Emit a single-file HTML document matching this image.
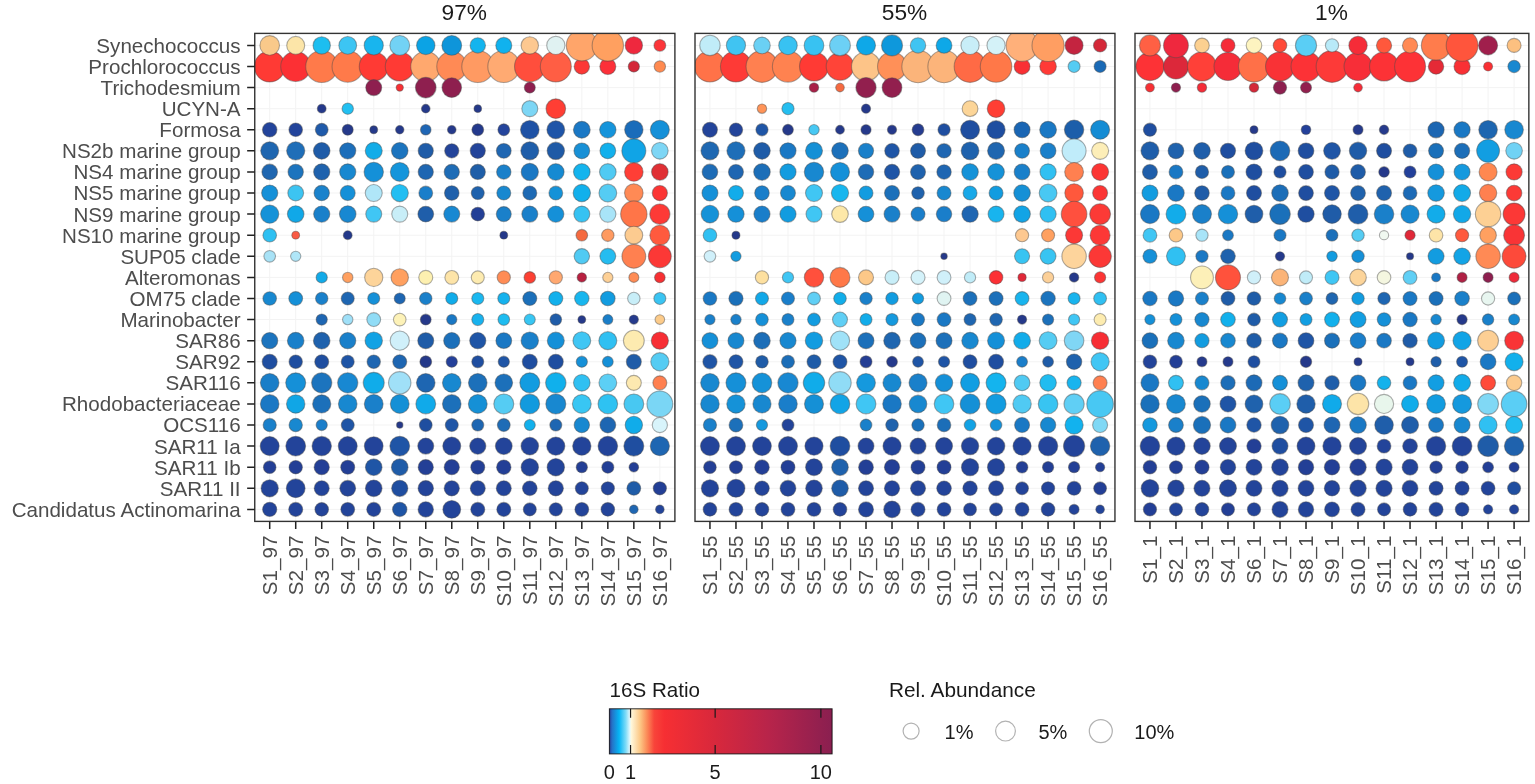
<!DOCTYPE html>
<html lang="en"><head><meta charset="utf-8"><title>16S Ratio bubble chart</title>
<style>html,body{margin:0;padding:0;background:#fff;}body{width:1535px;height:784px;overflow:hidden;}svg{display:block;}</style>
</head><body>
<svg width="1535" height="784" viewBox="0 0 1535 784"><rect x="0" y="0" width="1535" height="784" fill="#ffffff"/><defs><clipPath id="cp0"><rect x="254.75" y="33.4" width="420.15" height="488.00"/></clipPath><clipPath id="cp1"><rect x="695.0" y="33.4" width="419.95" height="488.00"/></clipPath><clipPath id="cp2"><rect x="1135.0" y="33.4" width="393.85" height="488.00"/></clipPath><linearGradient id="cbar" x1="0" y1="0" x2="1" y2="0"><stop offset="0.0000" stop-color="#253c92"/><stop offset="0.0114" stop-color="#2670c6"/><stop offset="0.0437" stop-color="#05b5f5"/><stop offset="0.0741" stop-color="#80dcf8"/><stop offset="0.0921" stop-color="#e2f8fd"/><stop offset="0.0978" stop-color="#fff8dc"/><stop offset="0.1377" stop-color="#fcc886"/><stop offset="0.1690" stop-color="#fb8a58"/><stop offset="0.2013" stop-color="#f8443a"/><stop offset="0.2469" stop-color="#f62f33"/><stop offset="0.4748" stop-color="#d8283c"/><stop offset="0.7123" stop-color="#b8244a"/><stop offset="1.0000" stop-color="#8a1f50"/></linearGradient></defs><path d="M269.70 33.4V521.4M295.71 33.4V521.4M321.72 33.4V521.4M347.73 33.4V521.4M373.74 33.4V521.4M399.75 33.4V521.4M425.76 33.4V521.4M451.77 33.4V521.4M477.78 33.4V521.4M503.79 33.4V521.4M529.80 33.4V521.4M555.81 33.4V521.4M581.82 33.4V521.4M607.83 33.4V521.4M633.84 33.4V521.4M659.85 33.4V521.4M254.75 45.40H674.9M254.75 66.49H674.9M254.75 87.58H674.9M254.75 108.67H674.9M254.75 129.76H674.9M254.75 150.85H674.9M254.75 171.94H674.9M254.75 193.03H674.9M254.75 214.12H674.9M254.75 235.21H674.9M254.75 256.30H674.9M254.75 277.39H674.9M254.75 298.48H674.9M254.75 319.57H674.9M254.75 340.66H674.9M254.75 361.75H674.9M254.75 382.84H674.9M254.75 403.93H674.9M254.75 425.02H674.9M254.75 446.11H674.9M254.75 467.20H674.9M254.75 488.29H674.9M254.75 509.38H674.9" stroke="#f3f3f3" stroke-width="1" fill="none"/><g clip-path="url(#cp0)" stroke="rgba(75,75,75,0.45)" stroke-width="1.1"><circle cx="269.70" cy="66.49" r="15.4" fill="#FF3A34"/><circle cx="295.71" cy="66.49" r="15.0" fill="#FC3034"/><circle cx="321.72" cy="66.49" r="16.0" fill="#FF7A4A"/><circle cx="347.73" cy="66.49" r="15.7" fill="#FF7A4A"/><circle cx="373.74" cy="66.49" r="14.5" fill="#FF3A34"/><circle cx="399.75" cy="66.49" r="14.5" fill="#FF3A34"/><circle cx="425.76" cy="66.49" r="15.0" fill="#FFA86E"/><circle cx="451.77" cy="66.49" r="15.0" fill="#FF8A55"/><circle cx="477.78" cy="66.49" r="16.0" fill="#FF9A62"/><circle cx="503.79" cy="66.49" r="16.0" fill="#FFAA72"/><circle cx="529.80" cy="66.49" r="15.3" fill="#FF4E3C"/><circle cx="555.81" cy="66.49" r="15.5" fill="#FF5E44"/><circle cx="581.82" cy="66.49" r="7.7" fill="#FC3836"/><circle cx="607.83" cy="66.49" r="8.0" fill="#FC3039"/><circle cx="633.84" cy="66.49" r="5.6" fill="#D42838"/><circle cx="659.85" cy="66.49" r="5.7" fill="#FF8A50"/><circle cx="269.70" cy="45.40" r="9.8" fill="#F9C98A"/><circle cx="295.71" cy="45.40" r="9.0" fill="#FCE5A8"/><circle cx="321.72" cy="45.40" r="8.7" fill="#1DBEF0"/><circle cx="347.73" cy="45.40" r="8.9" fill="#3CC5F3"/><circle cx="373.74" cy="45.40" r="9.6" fill="#18B5EE"/><circle cx="399.75" cy="45.40" r="9.9" fill="#72D2F5"/><circle cx="425.76" cy="45.40" r="9.2" fill="#0BA3E5"/><circle cx="451.77" cy="45.40" r="9.9" fill="#0E95DA"/><circle cx="477.78" cy="45.40" r="7.7" fill="#13B4EE"/><circle cx="503.79" cy="45.40" r="8.0" fill="#10B2EE"/><circle cx="529.80" cy="45.40" r="8.7" fill="#FDC890"/><circle cx="555.81" cy="45.40" r="9.1" fill="#E0F2F2"/><circle cx="581.82" cy="45.40" r="15.5" fill="#FFA56A"/><circle cx="607.83" cy="45.40" r="15.7" fill="#FFA060"/><circle cx="633.84" cy="45.40" r="8.7" fill="#EF283E"/><circle cx="659.85" cy="45.40" r="5.9" fill="#FC3539"/><circle cx="373.74" cy="87.58" r="8.0" fill="#8E1F4F"/><circle cx="399.75" cy="87.58" r="3.6" fill="#F73034"/><circle cx="425.76" cy="87.58" r="10.3" fill="#8E1F4F"/><circle cx="451.77" cy="87.58" r="9.8" fill="#8E1F4F"/><circle cx="529.80" cy="87.58" r="5.5" fill="#8E1F4F"/><circle cx="321.72" cy="108.67" r="4.4" fill="#25398A"/><circle cx="347.73" cy="108.67" r="5.7" fill="#22C0F2"/><circle cx="425.76" cy="108.67" r="4.3" fill="#25398A"/><circle cx="477.78" cy="108.67" r="3.8" fill="#25398A"/><circle cx="529.80" cy="108.67" r="8.0" fill="#7DD6F5"/><circle cx="555.81" cy="108.67" r="9.8" fill="#FF3E34"/><circle cx="269.70" cy="129.76" r="7.25" fill="#23449B"/><circle cx="295.71" cy="129.76" r="6.8" fill="#23449B"/><circle cx="321.72" cy="129.76" r="6.4" fill="#1F5AAA"/><circle cx="347.73" cy="129.76" r="5.5" fill="#25398A"/><circle cx="373.74" cy="129.76" r="3.9" fill="#25398A"/><circle cx="399.75" cy="129.76" r="4.2" fill="#25398A"/><circle cx="425.76" cy="129.76" r="5.3" fill="#1F66B5"/><circle cx="451.77" cy="129.76" r="4.3" fill="#25398A"/><circle cx="477.78" cy="129.76" r="5.9" fill="#23398C"/><circle cx="503.79" cy="129.76" r="5.9" fill="#24449C"/><circle cx="529.80" cy="129.76" r="9.3" fill="#1F52A5"/><circle cx="555.81" cy="129.76" r="8.9" fill="#1F55A8"/><circle cx="581.82" cy="129.76" r="8.4" fill="#1A78C5"/><circle cx="607.83" cy="129.76" r="8.2" fill="#1594DB"/><circle cx="633.84" cy="129.76" r="9.2" fill="#1A6CBA"/><circle cx="659.85" cy="129.76" r="9.5" fill="#1590D8"/><circle cx="269.70" cy="150.85" r="9.0" fill="#1F66B0"/><circle cx="295.71" cy="150.85" r="9.1" fill="#1F6EB8"/><circle cx="321.72" cy="150.85" r="8.3" fill="#1F5CA8"/><circle cx="347.73" cy="150.85" r="8.1" fill="#1C6EBA"/><circle cx="373.74" cy="150.85" r="8.5" fill="#12ACE8"/><circle cx="399.75" cy="150.85" r="8.3" fill="#1C74BE"/><circle cx="425.76" cy="150.85" r="7.6" fill="#1F5CA8"/><circle cx="451.77" cy="150.85" r="7.1" fill="#23449A"/><circle cx="477.78" cy="150.85" r="7.6" fill="#23449A"/><circle cx="503.79" cy="150.85" r="7.4" fill="#1F66B2"/><circle cx="529.80" cy="150.85" r="9.0" fill="#1F5EAA"/><circle cx="555.81" cy="150.85" r="8.7" fill="#1F5AA6"/><circle cx="581.82" cy="150.85" r="7.9" fill="#1890D6"/><circle cx="607.83" cy="150.85" r="7.9" fill="#12B0EC"/><circle cx="633.84" cy="150.85" r="12.0" fill="#10A4E6"/><circle cx="659.85" cy="150.85" r="8.3" fill="#7ED6F5"/><circle cx="269.70" cy="171.94" r="7.8" fill="#1F66B0"/><circle cx="295.71" cy="171.94" r="7.7" fill="#1C74BE"/><circle cx="321.72" cy="171.94" r="8.1" fill="#1F62AD"/><circle cx="347.73" cy="171.94" r="8.1" fill="#1888D0"/><circle cx="373.74" cy="171.94" r="9.7" fill="#1490D8"/><circle cx="399.75" cy="171.94" r="9.4" fill="#1495DB"/><circle cx="425.76" cy="171.94" r="7.6" fill="#1E66B2"/><circle cx="451.77" cy="171.94" r="7.6" fill="#1E6CB6"/><circle cx="477.78" cy="171.94" r="7.6" fill="#1F5EA8"/><circle cx="503.79" cy="171.94" r="7.2" fill="#1A80CA"/><circle cx="529.80" cy="171.94" r="8.6" fill="#1A78C4"/><circle cx="555.81" cy="171.94" r="8.3" fill="#168AD2"/><circle cx="581.82" cy="171.94" r="8.3" fill="#14B4EE"/><circle cx="607.83" cy="171.94" r="8.3" fill="#50CAF3"/><circle cx="633.84" cy="171.94" r="9.3" fill="#FF3E36"/><circle cx="659.85" cy="171.94" r="8.3" fill="#E03035"/><circle cx="269.70" cy="193.03" r="8.1" fill="#1590D8"/><circle cx="295.71" cy="193.03" r="7.9" fill="#3CC4F2"/><circle cx="321.72" cy="193.03" r="7.7" fill="#1A82CC"/><circle cx="347.73" cy="193.03" r="7.5" fill="#1590D8"/><circle cx="373.74" cy="193.03" r="8.5" fill="#B0E6F8"/><circle cx="399.75" cy="193.03" r="8.6" fill="#22BEF2"/><circle cx="425.76" cy="193.03" r="6.9" fill="#1A7ECA"/><circle cx="451.77" cy="193.03" r="7.3" fill="#1F60AB"/><circle cx="477.78" cy="193.03" r="6.5" fill="#1F62AD"/><circle cx="503.79" cy="193.03" r="7.0" fill="#1888D0"/><circle cx="529.80" cy="193.03" r="7.0" fill="#1E6AB4"/><circle cx="555.81" cy="193.03" r="6.9" fill="#1592D8"/><circle cx="581.82" cy="193.03" r="8.7" fill="#12B0EC"/><circle cx="607.83" cy="193.03" r="8.9" fill="#55CCF3"/><circle cx="633.84" cy="193.03" r="9.3" fill="#FF8A55"/><circle cx="659.85" cy="193.03" r="7.6" fill="#FC3534"/><circle cx="269.70" cy="214.12" r="9.1" fill="#1592D8"/><circle cx="295.71" cy="214.12" r="8.3" fill="#10A8E8"/><circle cx="321.72" cy="214.12" r="8.1" fill="#1A80CA"/><circle cx="347.73" cy="214.12" r="8.3" fill="#1888D2"/><circle cx="373.74" cy="214.12" r="8.0" fill="#40C6F4"/><circle cx="399.75" cy="214.12" r="8.0" fill="#C8EEF8"/><circle cx="425.76" cy="214.12" r="7.9" fill="#1F5EAA"/><circle cx="451.77" cy="214.12" r="8.0" fill="#1888D2"/><circle cx="477.78" cy="214.12" r="6.8" fill="#233F96"/><circle cx="503.79" cy="214.12" r="7.5" fill="#1A80CA"/><circle cx="529.80" cy="214.12" r="8.0" fill="#1A80CA"/><circle cx="555.81" cy="214.12" r="8.1" fill="#1590D8"/><circle cx="581.82" cy="214.12" r="8.0" fill="#36C2F2"/><circle cx="607.83" cy="214.12" r="8.1" fill="#A8E4F8"/><circle cx="633.84" cy="214.12" r="13.2" fill="#FF7548"/><circle cx="659.85" cy="214.12" r="10.1" fill="#FD3A36"/><circle cx="269.70" cy="235.21" r="6.8" fill="#2EC0F2"/><circle cx="295.71" cy="235.21" r="3.9" fill="#F95A44"/><circle cx="347.73" cy="235.21" r="4.4" fill="#24398A"/><circle cx="503.79" cy="235.21" r="3.9" fill="#25398A"/><circle cx="581.82" cy="235.21" r="5.8" fill="#F56A40"/><circle cx="607.83" cy="235.21" r="6.2" fill="#FF9A60"/><circle cx="633.84" cy="235.21" r="8.9" fill="#FCCB90"/><circle cx="659.85" cy="235.21" r="10.0" fill="#FF5A3E"/><circle cx="269.70" cy="256.30" r="5.8" fill="#A8E2F6"/><circle cx="295.71" cy="256.30" r="5.1" fill="#B0E6F8"/><circle cx="581.82" cy="256.30" r="7.7" fill="#50CAF3"/><circle cx="607.83" cy="256.30" r="7.9" fill="#25BCF0"/><circle cx="633.84" cy="256.30" r="11.9" fill="#FF8050"/><circle cx="659.85" cy="256.30" r="11.4" fill="#FC3836"/><circle cx="321.72" cy="277.39" r="5.6" fill="#12AAE8"/><circle cx="347.73" cy="277.39" r="5.2" fill="#FFA060"/><circle cx="373.74" cy="277.39" r="9.1" fill="#FDD49A"/><circle cx="399.75" cy="277.39" r="8.7" fill="#FFA060"/><circle cx="425.76" cy="277.39" r="7.0" fill="#FDF0B0"/><circle cx="451.77" cy="277.39" r="6.9" fill="#FDE4A8"/><circle cx="477.78" cy="277.39" r="6.5" fill="#FDEBB0"/><circle cx="503.79" cy="277.39" r="6.6" fill="#FF8C55"/><circle cx="529.80" cy="277.39" r="5.8" fill="#FC4033"/><circle cx="555.81" cy="277.39" r="6.6" fill="#FFA870"/><circle cx="581.82" cy="277.39" r="4.7" fill="#B82040"/><circle cx="607.83" cy="277.39" r="5.1" fill="#FDD096"/><circle cx="633.84" cy="277.39" r="5.0" fill="#FF8C55"/><circle cx="659.85" cy="277.39" r="5.3" fill="#F73033"/><circle cx="269.70" cy="298.48" r="6.8" fill="#1888D0"/><circle cx="295.71" cy="298.48" r="6.9" fill="#1590D8"/><circle cx="321.72" cy="298.48" r="6.2" fill="#1A80CA"/><circle cx="347.73" cy="298.48" r="6.5" fill="#1E66B2"/><circle cx="373.74" cy="298.48" r="6.0" fill="#1590D8"/><circle cx="399.75" cy="298.48" r="5.5" fill="#1E66B2"/><circle cx="425.76" cy="298.48" r="6.2" fill="#1A80CA"/><circle cx="451.77" cy="298.48" r="6.0" fill="#10ACEA"/><circle cx="477.78" cy="298.48" r="6.0" fill="#1AB8F0"/><circle cx="503.79" cy="298.48" r="6.0" fill="#15B2EE"/><circle cx="529.80" cy="298.48" r="7.0" fill="#1C70BA"/><circle cx="555.81" cy="298.48" r="7.0" fill="#12B0EC"/><circle cx="581.82" cy="298.48" r="7.2" fill="#18B6EE"/><circle cx="607.83" cy="298.48" r="7.3" fill="#129CE0"/><circle cx="633.84" cy="298.48" r="6.2" fill="#C8EEF8"/><circle cx="659.85" cy="298.48" r="6.0" fill="#3AC4F2"/><circle cx="321.72" cy="319.57" r="5.6" fill="#1E66B2"/><circle cx="347.73" cy="319.57" r="5.2" fill="#A0E0F8"/><circle cx="373.74" cy="319.57" r="6.9" fill="#90DCF6"/><circle cx="399.75" cy="319.57" r="6.3" fill="#FDF2B8"/><circle cx="425.76" cy="319.57" r="5.4" fill="#25398A"/><circle cx="451.77" cy="319.57" r="5.1" fill="#1A78C4"/><circle cx="477.78" cy="319.57" r="6.0" fill="#18B2EE"/><circle cx="503.79" cy="319.57" r="5.8" fill="#1EBCF0"/><circle cx="529.80" cy="319.57" r="5.5" fill="#38C6F3"/><circle cx="555.81" cy="319.57" r="5.8" fill="#1F5CA8"/><circle cx="581.82" cy="319.57" r="3.9" fill="#25398A"/><circle cx="607.83" cy="319.57" r="5.0" fill="#1A7EC8"/><circle cx="633.84" cy="319.57" r="4.6" fill="#253A8C"/><circle cx="659.85" cy="319.57" r="4.8" fill="#FCCB8A"/><circle cx="269.70" cy="340.66" r="8.1" fill="#1C74BE"/><circle cx="295.71" cy="340.66" r="8.3" fill="#1A80CA"/><circle cx="321.72" cy="340.66" r="8.3" fill="#1F62AD"/><circle cx="347.73" cy="340.66" r="8.1" fill="#1A80CA"/><circle cx="373.74" cy="340.66" r="8.7" fill="#12A2E4"/><circle cx="399.75" cy="340.66" r="9.6" fill="#D0F0FA"/><circle cx="425.76" cy="340.66" r="8.0" fill="#1F5CA8"/><circle cx="451.77" cy="340.66" r="8.1" fill="#1C70BA"/><circle cx="477.78" cy="340.66" r="8.1" fill="#1F55A6"/><circle cx="503.79" cy="340.66" r="7.9" fill="#1A78C4"/><circle cx="529.80" cy="340.66" r="8.7" fill="#1A80CA"/><circle cx="555.81" cy="340.66" r="8.5" fill="#1590D8"/><circle cx="581.82" cy="340.66" r="8.9" fill="#40C6F4"/><circle cx="607.83" cy="340.66" r="9.0" fill="#30C0F2"/><circle cx="633.84" cy="340.66" r="10.4" fill="#FDEBB0"/><circle cx="659.85" cy="340.66" r="8.6" fill="#F72E34"/><circle cx="269.70" cy="361.75" r="7.5" fill="#1F4EA0"/><circle cx="295.71" cy="361.75" r="6.7" fill="#1F4EA0"/><circle cx="321.72" cy="361.75" r="7.0" fill="#1F4EA0"/><circle cx="347.73" cy="361.75" r="6.5" fill="#1F55A6"/><circle cx="373.74" cy="361.75" r="6.7" fill="#1E66B2"/><circle cx="399.75" cy="361.75" r="7.0" fill="#1E66B2"/><circle cx="425.76" cy="361.75" r="5.9" fill="#25398A"/><circle cx="451.77" cy="361.75" r="5.6" fill="#24409A"/><circle cx="477.78" cy="361.75" r="6.0" fill="#1F4EA0"/><circle cx="503.79" cy="361.75" r="5.6" fill="#1F55A6"/><circle cx="529.80" cy="361.75" r="7.5" fill="#1F4EA0"/><circle cx="555.81" cy="361.75" r="7.5" fill="#1F4EA0"/><circle cx="581.82" cy="361.75" r="5.6" fill="#1590D8"/><circle cx="607.83" cy="361.75" r="5.4" fill="#1590D8"/><circle cx="633.84" cy="361.75" r="7.5" fill="#1F5CA8"/><circle cx="659.85" cy="361.75" r="9.1" fill="#55CCF3"/><circle cx="269.70" cy="382.84" r="9.3" fill="#1A7EC8"/><circle cx="295.71" cy="382.84" r="10.0" fill="#1590D8"/><circle cx="321.72" cy="382.84" r="10.1" fill="#1C74BE"/><circle cx="347.73" cy="382.84" r="10.1" fill="#1888D2"/><circle cx="373.74" cy="382.84" r="10.5" fill="#10ACEA"/><circle cx="399.75" cy="382.84" r="11.2" fill="#A0E0F8"/><circle cx="425.76" cy="382.84" r="9.3" fill="#1E66B2"/><circle cx="451.77" cy="382.84" r="9.3" fill="#1888D0"/><circle cx="477.78" cy="382.84" r="9.3" fill="#1C70BA"/><circle cx="503.79" cy="382.84" r="8.8" fill="#1C70BA"/><circle cx="529.80" cy="382.84" r="10.0" fill="#129CE0"/><circle cx="555.81" cy="382.84" r="10.2" fill="#10B0EC"/><circle cx="581.82" cy="382.84" r="8.3" fill="#30C0F2"/><circle cx="607.83" cy="382.84" r="8.9" fill="#5CCFF5"/><circle cx="633.84" cy="382.84" r="7.5" fill="#FDE9B0"/><circle cx="659.85" cy="382.84" r="7.0" fill="#FF8050"/><circle cx="269.70" cy="403.93" r="9.3" fill="#1A78C4"/><circle cx="295.71" cy="403.93" r="9.2" fill="#10A6E6"/><circle cx="321.72" cy="403.93" r="9.1" fill="#1C70BA"/><circle cx="347.73" cy="403.93" r="9.3" fill="#1888D0"/><circle cx="373.74" cy="403.93" r="9.4" fill="#1A80CA"/><circle cx="399.75" cy="403.93" r="9.4" fill="#1590D6"/><circle cx="425.76" cy="403.93" r="9.9" fill="#10AAEA"/><circle cx="451.77" cy="403.93" r="9.3" fill="#1C70BA"/><circle cx="477.78" cy="403.93" r="9.4" fill="#1590D6"/><circle cx="503.79" cy="403.93" r="10.0" fill="#55CCF3"/><circle cx="529.80" cy="403.93" r="9.8" fill="#129ADE"/><circle cx="555.81" cy="403.93" r="10.0" fill="#1888D0"/><circle cx="581.82" cy="403.93" r="9.4" fill="#38C6F3"/><circle cx="607.83" cy="403.93" r="9.8" fill="#2EC2F2"/><circle cx="633.84" cy="403.93" r="9.9" fill="#48C8F2"/><circle cx="659.85" cy="403.93" r="12.9" fill="#7AD6F5"/><circle cx="269.70" cy="425.02" r="6.6" fill="#1A80CA"/><circle cx="295.71" cy="425.02" r="6.7" fill="#1888D0"/><circle cx="321.72" cy="425.02" r="5.6" fill="#1A7ECA"/><circle cx="347.73" cy="425.02" r="6.5" fill="#1F55A6"/><circle cx="399.75" cy="425.02" r="3.2" fill="#25398A"/><circle cx="425.76" cy="425.02" r="6.4" fill="#1F4EA0"/><circle cx="451.77" cy="425.02" r="6.5" fill="#1F55A6"/><circle cx="477.78" cy="425.02" r="6.0" fill="#1E66B2"/><circle cx="503.79" cy="425.02" r="6.4" fill="#1E6CB6"/><circle cx="529.80" cy="425.02" r="5.5" fill="#12B0EC"/><circle cx="555.81" cy="425.02" r="6.0" fill="#1E66B2"/><circle cx="581.82" cy="425.02" r="7.7" fill="#1888D0"/><circle cx="607.83" cy="425.02" r="7.9" fill="#1E66B2"/><circle cx="633.84" cy="425.02" r="8.7" fill="#10ACEA"/><circle cx="659.85" cy="425.02" r="7.6" fill="#D8F4FB"/><circle cx="269.70" cy="446.11" r="9.5" fill="#23449A"/><circle cx="295.71" cy="446.11" r="9.9" fill="#23449A"/><circle cx="321.72" cy="446.11" r="9.7" fill="#23449A"/><circle cx="347.73" cy="446.11" r="9.5" fill="#23449A"/><circle cx="373.74" cy="446.11" r="9.4" fill="#23449A"/><circle cx="399.75" cy="446.11" r="9.9" fill="#1F55A6"/><circle cx="425.76" cy="446.11" r="8.0" fill="#23449A"/><circle cx="451.77" cy="446.11" r="9.0" fill="#23449A"/><circle cx="477.78" cy="446.11" r="8.1" fill="#23449A"/><circle cx="503.79" cy="446.11" r="8.4" fill="#23449A"/><circle cx="529.80" cy="446.11" r="8.8" fill="#23449A"/><circle cx="555.81" cy="446.11" r="9.1" fill="#23449A"/><circle cx="581.82" cy="446.11" r="9.2" fill="#23449A"/><circle cx="607.83" cy="446.11" r="9.8" fill="#23449A"/><circle cx="633.84" cy="446.11" r="10.0" fill="#1F4EA0"/><circle cx="659.85" cy="446.11" r="9.6" fill="#1E66B2"/><circle cx="269.70" cy="467.20" r="6.3" fill="#233F96"/><circle cx="295.71" cy="467.20" r="6.7" fill="#233F96"/><circle cx="321.72" cy="467.20" r="7.6" fill="#233F96"/><circle cx="347.73" cy="467.20" r="7.0" fill="#233F96"/><circle cx="373.74" cy="467.20" r="8.3" fill="#1F55A6"/><circle cx="399.75" cy="467.20" r="8.3" fill="#1F5CA8"/><circle cx="425.76" cy="467.20" r="7.6" fill="#233F96"/><circle cx="451.77" cy="467.20" r="7.6" fill="#233F96"/><circle cx="477.78" cy="467.20" r="7.0" fill="#233F96"/><circle cx="503.79" cy="467.20" r="7.2" fill="#233F96"/><circle cx="529.80" cy="467.20" r="8.7" fill="#23449A"/><circle cx="555.81" cy="467.20" r="8.7" fill="#23449A"/><circle cx="581.82" cy="467.20" r="5.6" fill="#233F96"/><circle cx="607.83" cy="467.20" r="6.0" fill="#233F96"/><circle cx="633.84" cy="467.20" r="4.8" fill="#233F96"/><circle cx="269.70" cy="488.29" r="8.6" fill="#23449A"/><circle cx="295.71" cy="488.29" r="9.4" fill="#23449A"/><circle cx="321.72" cy="488.29" r="7.5" fill="#23449A"/><circle cx="347.73" cy="488.29" r="7.9" fill="#23449A"/><circle cx="373.74" cy="488.29" r="8.3" fill="#23449A"/><circle cx="399.75" cy="488.29" r="8.1" fill="#1F4EA0"/><circle cx="425.76" cy="488.29" r="7.7" fill="#23449A"/><circle cx="451.77" cy="488.29" r="7.6" fill="#23449A"/><circle cx="477.78" cy="488.29" r="7.5" fill="#23449A"/><circle cx="503.79" cy="488.29" r="7.5" fill="#23449A"/><circle cx="529.80" cy="488.29" r="7.3" fill="#23449A"/><circle cx="555.81" cy="488.29" r="7.6" fill="#23449A"/><circle cx="581.82" cy="488.29" r="6.5" fill="#23449A"/><circle cx="607.83" cy="488.29" r="6.6" fill="#23449A"/><circle cx="633.84" cy="488.29" r="6.9" fill="#1F5CA8"/><circle cx="659.85" cy="488.29" r="6.6" fill="#233F96"/><circle cx="269.70" cy="509.38" r="7.1" fill="#23449A"/><circle cx="295.71" cy="509.38" r="7.0" fill="#23449A"/><circle cx="321.72" cy="509.38" r="6.8" fill="#23449A"/><circle cx="347.73" cy="509.38" r="6.9" fill="#23449A"/><circle cx="373.74" cy="509.38" r="7.0" fill="#23449A"/><circle cx="399.75" cy="509.38" r="7.2" fill="#1F55A6"/><circle cx="425.76" cy="509.38" r="7.7" fill="#23449A"/><circle cx="451.77" cy="509.38" r="8.9" fill="#23449A"/><circle cx="477.78" cy="509.38" r="7.0" fill="#23449A"/><circle cx="503.79" cy="509.38" r="7.0" fill="#23449A"/><circle cx="529.80" cy="509.38" r="6.5" fill="#23449A"/><circle cx="555.81" cy="509.38" r="6.6" fill="#23449A"/><circle cx="581.82" cy="509.38" r="6.9" fill="#23449A"/><circle cx="607.83" cy="509.38" r="6.8" fill="#23449A"/><circle cx="633.84" cy="509.38" r="4.3" fill="#1E66B2"/><circle cx="659.85" cy="509.38" r="4.3" fill="#23449A"/></g><rect x="254.75" y="33.4" width="420.15" height="488.00" fill="none" stroke="#333333" stroke-width="1.4"/><path d="M269.70 521.4V529.0M295.71 521.4V529.0M321.72 521.4V529.0M347.73 521.4V529.0M373.74 521.4V529.0M399.75 521.4V529.0M425.76 521.4V529.0M451.77 521.4V529.0M477.78 521.4V529.0M503.79 521.4V529.0M529.80 521.4V529.0M555.81 521.4V529.0M581.82 521.4V529.0M607.83 521.4V529.0M633.84 521.4V529.0M659.85 521.4V529.0" stroke="#222222" stroke-width="1.5"/><text transform="translate(276.90,535.6) rotate(-90)" text-anchor="end" font-family="Liberation Sans, Arial, sans-serif" font-size="20.6" fill="#4d4d4d">S1_97</text><text transform="translate(302.91,535.6) rotate(-90)" text-anchor="end" font-family="Liberation Sans, Arial, sans-serif" font-size="20.6" fill="#4d4d4d">S2_97</text><text transform="translate(328.92,535.6) rotate(-90)" text-anchor="end" font-family="Liberation Sans, Arial, sans-serif" font-size="20.6" fill="#4d4d4d">S3_97</text><text transform="translate(354.93,535.6) rotate(-90)" text-anchor="end" font-family="Liberation Sans, Arial, sans-serif" font-size="20.6" fill="#4d4d4d">S4_97</text><text transform="translate(380.94,535.6) rotate(-90)" text-anchor="end" font-family="Liberation Sans, Arial, sans-serif" font-size="20.6" fill="#4d4d4d">S5_97</text><text transform="translate(406.95,535.6) rotate(-90)" text-anchor="end" font-family="Liberation Sans, Arial, sans-serif" font-size="20.6" fill="#4d4d4d">S6_97</text><text transform="translate(432.96,535.6) rotate(-90)" text-anchor="end" font-family="Liberation Sans, Arial, sans-serif" font-size="20.6" fill="#4d4d4d">S7_97</text><text transform="translate(458.97,535.6) rotate(-90)" text-anchor="end" font-family="Liberation Sans, Arial, sans-serif" font-size="20.6" fill="#4d4d4d">S8_97</text><text transform="translate(484.98,535.6) rotate(-90)" text-anchor="end" font-family="Liberation Sans, Arial, sans-serif" font-size="20.6" fill="#4d4d4d">S9_97</text><text transform="translate(510.99,535.6) rotate(-90)" text-anchor="end" font-family="Liberation Sans, Arial, sans-serif" font-size="20.6" fill="#4d4d4d">S10_97</text><text transform="translate(537.00,535.6) rotate(-90)" text-anchor="end" font-family="Liberation Sans, Arial, sans-serif" font-size="20.6" fill="#4d4d4d">S11_97</text><text transform="translate(563.01,535.6) rotate(-90)" text-anchor="end" font-family="Liberation Sans, Arial, sans-serif" font-size="20.6" fill="#4d4d4d">S12_97</text><text transform="translate(589.02,535.6) rotate(-90)" text-anchor="end" font-family="Liberation Sans, Arial, sans-serif" font-size="20.6" fill="#4d4d4d">S13_97</text><text transform="translate(615.03,535.6) rotate(-90)" text-anchor="end" font-family="Liberation Sans, Arial, sans-serif" font-size="20.6" fill="#4d4d4d">S14_97</text><text transform="translate(641.04,535.6) rotate(-90)" text-anchor="end" font-family="Liberation Sans, Arial, sans-serif" font-size="20.6" fill="#4d4d4d">S15_97</text><text transform="translate(667.05,535.6) rotate(-90)" text-anchor="end" font-family="Liberation Sans, Arial, sans-serif" font-size="20.6" fill="#4d4d4d">S16_97</text><text x="464.32" y="20" text-anchor="middle" font-family="Liberation Sans, Arial, sans-serif" font-size="22.7" fill="#1a1a1a">97%</text><path d="M709.95 33.4V521.4M735.96 33.4V521.4M761.97 33.4V521.4M787.98 33.4V521.4M813.99 33.4V521.4M840.00 33.4V521.4M866.01 33.4V521.4M892.02 33.4V521.4M918.03 33.4V521.4M944.04 33.4V521.4M970.05 33.4V521.4M996.06 33.4V521.4M1022.07 33.4V521.4M1048.08 33.4V521.4M1074.09 33.4V521.4M1100.10 33.4V521.4M695.0 45.40H1114.95M695.0 66.49H1114.95M695.0 87.58H1114.95M695.0 108.67H1114.95M695.0 129.76H1114.95M695.0 150.85H1114.95M695.0 171.94H1114.95M695.0 193.03H1114.95M695.0 214.12H1114.95M695.0 235.21H1114.95M695.0 256.30H1114.95M695.0 277.39H1114.95M695.0 298.48H1114.95M695.0 319.57H1114.95M695.0 340.66H1114.95M695.0 361.75H1114.95M695.0 382.84H1114.95M695.0 403.93H1114.95M695.0 425.02H1114.95M695.0 446.11H1114.95M695.0 467.20H1114.95M695.0 488.29H1114.95M695.0 509.38H1114.95" stroke="#f3f3f3" stroke-width="1" fill="none"/><g clip-path="url(#cp1)" stroke="rgba(75,75,75,0.45)" stroke-width="1.1"><circle cx="709.95" cy="66.49" r="15.5" fill="#FF7248"/><circle cx="735.96" cy="66.49" r="15.5" fill="#FE3A36"/><circle cx="761.97" cy="66.49" r="15.9" fill="#FF8050"/><circle cx="787.98" cy="66.49" r="15.6" fill="#FF8250"/><circle cx="813.99" cy="66.49" r="14.5" fill="#FF3A34"/><circle cx="840.00" cy="66.49" r="13.8" fill="#FF4438"/><circle cx="866.01" cy="66.49" r="14.5" fill="#FDC488"/><circle cx="892.02" cy="66.49" r="14.5" fill="#FF9058"/><circle cx="918.03" cy="66.49" r="16.2" fill="#FBB47A"/><circle cx="944.04" cy="66.49" r="16.2" fill="#FCB47A"/><circle cx="970.05" cy="66.49" r="15.9" fill="#FF6A45"/><circle cx="996.06" cy="66.49" r="15.8" fill="#FF7848"/><circle cx="1022.07" cy="66.49" r="7.9" fill="#F93034"/><circle cx="1048.08" cy="66.49" r="8.3" fill="#FF3A36"/><circle cx="1074.09" cy="66.49" r="6.0" fill="#55CCF3"/><circle cx="1100.10" cy="66.49" r="6.0" fill="#1A6AB6"/><circle cx="709.95" cy="45.40" r="10.2" fill="#C0ECF8"/><circle cx="735.96" cy="45.40" r="9.6" fill="#40C4F2"/><circle cx="761.97" cy="45.40" r="8.3" fill="#6AD0F4"/><circle cx="787.98" cy="45.40" r="9.3" fill="#38C2F2"/><circle cx="813.99" cy="45.40" r="9.9" fill="#38C2F2"/><circle cx="840.00" cy="45.40" r="10.4" fill="#6CD0F5"/><circle cx="866.01" cy="45.40" r="9.5" fill="#0EA8E8"/><circle cx="892.02" cy="45.40" r="10.5" fill="#0E98DC"/><circle cx="918.03" cy="45.40" r="7.7" fill="#40C4F2"/><circle cx="944.04" cy="45.40" r="7.9" fill="#0EA8E8"/><circle cx="970.05" cy="45.40" r="9.1" fill="#C8EEF8"/><circle cx="996.06" cy="45.40" r="9.1" fill="#D4F2F8"/><circle cx="1022.07" cy="45.40" r="16.0" fill="#FFB07A"/><circle cx="1048.08" cy="45.40" r="16.1" fill="#FF9E62"/><circle cx="1074.09" cy="45.40" r="9.0" fill="#C42440"/><circle cx="1100.10" cy="45.40" r="6.6" fill="#D42838"/><circle cx="813.99" cy="87.58" r="4.7" fill="#A82048"/><circle cx="840.00" cy="87.58" r="4.3" fill="#F56A40"/><circle cx="866.01" cy="87.58" r="10.1" fill="#921F4E"/><circle cx="892.02" cy="87.58" r="9.9" fill="#921F4E"/><circle cx="761.97" cy="108.67" r="4.7" fill="#FF9458"/><circle cx="787.98" cy="108.67" r="6.1" fill="#25BEF0"/><circle cx="866.01" cy="108.67" r="4.6" fill="#25398A"/><circle cx="970.05" cy="108.67" r="7.9" fill="#FCD598"/><circle cx="996.06" cy="108.67" r="8.8" fill="#FF3E34"/><circle cx="709.95" cy="129.76" r="7.5" fill="#23449A"/><circle cx="735.96" cy="129.76" r="6.7" fill="#23449A"/><circle cx="761.97" cy="129.76" r="6.1" fill="#1F55A6"/><circle cx="787.98" cy="129.76" r="5.4" fill="#25398A"/><circle cx="813.99" cy="129.76" r="5.2" fill="#48C8F3"/><circle cx="840.00" cy="129.76" r="4.4" fill="#25398A"/><circle cx="866.01" cy="129.76" r="5.1" fill="#25398A"/><circle cx="892.02" cy="129.76" r="4.6" fill="#25398A"/><circle cx="918.03" cy="129.76" r="5.9" fill="#253C90"/><circle cx="944.04" cy="129.76" r="6.1" fill="#1F4EA0"/><circle cx="970.05" cy="129.76" r="9.5" fill="#1F4EA0"/><circle cx="996.06" cy="129.76" r="9.1" fill="#1F4EA0"/><circle cx="1022.07" cy="129.76" r="8.0" fill="#1A66B4"/><circle cx="1048.08" cy="129.76" r="8.4" fill="#1A78C4"/><circle cx="1074.09" cy="129.76" r="9.7" fill="#1C5EAA"/><circle cx="1100.10" cy="129.76" r="9.5" fill="#158CD4"/><circle cx="709.95" cy="150.85" r="9.0" fill="#1F68B2"/><circle cx="735.96" cy="150.85" r="9.1" fill="#1E6EB8"/><circle cx="761.97" cy="150.85" r="8.3" fill="#1F5CA8"/><circle cx="787.98" cy="150.85" r="8.1" fill="#1A78C4"/><circle cx="813.99" cy="150.85" r="8.5" fill="#1590D6"/><circle cx="840.00" cy="150.85" r="8.3" fill="#1C70BA"/><circle cx="866.01" cy="150.85" r="7.6" fill="#1A80CA"/><circle cx="892.02" cy="150.85" r="7.3" fill="#1F55A6"/><circle cx="918.03" cy="150.85" r="7.5" fill="#1F5CA8"/><circle cx="944.04" cy="150.85" r="7.2" fill="#1F66B2"/><circle cx="970.05" cy="150.85" r="8.9" fill="#1F62AD"/><circle cx="996.06" cy="150.85" r="8.5" fill="#1F66B0"/><circle cx="1022.07" cy="150.85" r="7.4" fill="#1A80CA"/><circle cx="1048.08" cy="150.85" r="7.9" fill="#1A80CA"/><circle cx="1074.09" cy="150.85" r="12.0" fill="#C0ECFA"/><circle cx="1100.10" cy="150.85" r="8.5" fill="#FDEEB8"/><circle cx="709.95" cy="171.94" r="7.8" fill="#1E6CB6"/><circle cx="735.96" cy="171.94" r="7.5" fill="#1F66B2"/><circle cx="761.97" cy="171.94" r="8.3" fill="#1C6EB8"/><circle cx="787.98" cy="171.94" r="8.1" fill="#129CE0"/><circle cx="813.99" cy="171.94" r="9.7" fill="#1888D0"/><circle cx="840.00" cy="171.94" r="9.5" fill="#1590D8"/><circle cx="866.01" cy="171.94" r="7.7" fill="#1E6CB6"/><circle cx="892.02" cy="171.94" r="7.6" fill="#1F55A6"/><circle cx="918.03" cy="171.94" r="7.5" fill="#1F62AD"/><circle cx="944.04" cy="171.94" r="7.2" fill="#1F66B2"/><circle cx="970.05" cy="171.94" r="8.3" fill="#1592D8"/><circle cx="996.06" cy="171.94" r="8.3" fill="#1592D8"/><circle cx="1022.07" cy="171.94" r="7.9" fill="#1A80CA"/><circle cx="1048.08" cy="171.94" r="8.1" fill="#30C0F2"/><circle cx="1074.09" cy="171.94" r="9.4" fill="#FF8050"/><circle cx="1100.10" cy="171.94" r="8.5" fill="#FC3534"/><circle cx="709.95" cy="193.03" r="8.0" fill="#1590D8"/><circle cx="735.96" cy="193.03" r="7.5" fill="#12ACEA"/><circle cx="761.97" cy="193.03" r="7.3" fill="#1A7ECA"/><circle cx="787.98" cy="193.03" r="7.5" fill="#1888D0"/><circle cx="813.99" cy="193.03" r="8.5" fill="#40C6F4"/><circle cx="840.00" cy="193.03" r="8.6" fill="#18B6EE"/><circle cx="866.01" cy="193.03" r="7.0" fill="#129CE0"/><circle cx="892.02" cy="193.03" r="7.5" fill="#1C70BA"/><circle cx="918.03" cy="193.03" r="6.3" fill="#1F62AD"/><circle cx="944.04" cy="193.03" r="7.0" fill="#1888D0"/><circle cx="970.05" cy="193.03" r="7.0" fill="#18A8E8"/><circle cx="996.06" cy="193.03" r="7.0" fill="#129CE0"/><circle cx="1022.07" cy="193.03" r="8.3" fill="#1590D6"/><circle cx="1048.08" cy="193.03" r="8.9" fill="#48C8F3"/><circle cx="1074.09" cy="193.03" r="9.3" fill="#FF583C"/><circle cx="1100.10" cy="193.03" r="7.5" fill="#FC3534"/><circle cx="709.95" cy="214.12" r="8.8" fill="#1592D8"/><circle cx="735.96" cy="214.12" r="8.2" fill="#1590D8"/><circle cx="761.97" cy="214.12" r="8.1" fill="#1A7ECA"/><circle cx="787.98" cy="214.12" r="8.1" fill="#129CE0"/><circle cx="813.99" cy="214.12" r="8.0" fill="#40C6F4"/><circle cx="840.00" cy="214.12" r="8.3" fill="#FDE8A8"/><circle cx="866.01" cy="214.12" r="7.9" fill="#1590D8"/><circle cx="892.02" cy="214.12" r="8.0" fill="#1A80CA"/><circle cx="918.03" cy="214.12" r="7.0" fill="#1A7ECA"/><circle cx="944.04" cy="214.12" r="7.7" fill="#1A7ECA"/><circle cx="970.05" cy="214.12" r="8.2" fill="#1F66B2"/><circle cx="996.06" cy="214.12" r="8.0" fill="#18B4EE"/><circle cx="1022.07" cy="214.12" r="8.3" fill="#12A4E6"/><circle cx="1048.08" cy="214.12" r="8.1" fill="#30C0F2"/><circle cx="1074.09" cy="214.12" r="12.8" fill="#FF503E"/><circle cx="1100.10" cy="214.12" r="10.4" fill="#FC3A36"/><circle cx="709.95" cy="235.21" r="6.8" fill="#30C0F2"/><circle cx="735.96" cy="235.21" r="4.0" fill="#25398A"/><circle cx="1022.07" cy="235.21" r="6.6" fill="#FDC890"/><circle cx="1048.08" cy="235.21" r="6.5" fill="#FFA060"/><circle cx="1074.09" cy="235.21" r="8.5" fill="#FC3836"/><circle cx="1100.10" cy="235.21" r="10.0" fill="#FC3836"/><circle cx="709.95" cy="256.30" r="5.8" fill="#D0F0FA"/><circle cx="735.96" cy="256.30" r="5.1" fill="#129CE0"/><circle cx="944.04" cy="256.30" r="3.2" fill="#25398A"/><circle cx="1022.07" cy="256.30" r="7.5" fill="#38C4F2"/><circle cx="1048.08" cy="256.30" r="7.9" fill="#38C4F2"/><circle cx="1074.09" cy="256.30" r="12.2" fill="#FDD49C"/><circle cx="1100.10" cy="256.30" r="11.2" fill="#FC3836"/><circle cx="761.97" cy="277.39" r="6.6" fill="#FDE0A0"/><circle cx="787.98" cy="277.39" r="5.6" fill="#40C6F4"/><circle cx="813.99" cy="277.39" r="9.7" fill="#FF503C"/><circle cx="840.00" cy="277.39" r="10.0" fill="#FF7848"/><circle cx="866.01" cy="277.39" r="7.5" fill="#FCC888"/><circle cx="892.02" cy="277.39" r="7.0" fill="#C8EEF8"/><circle cx="918.03" cy="277.39" r="7.0" fill="#D4F2FA"/><circle cx="944.04" cy="277.39" r="6.9" fill="#D0F0FA"/><circle cx="970.05" cy="277.39" r="5.6" fill="#C0ECF8"/><circle cx="996.06" cy="277.39" r="6.8" fill="#FC3034"/><circle cx="1022.07" cy="277.39" r="4.1" fill="#E02838"/><circle cx="1048.08" cy="277.39" r="5.6" fill="#FCD098"/><circle cx="1074.09" cy="277.39" r="4.7" fill="#25398A"/><circle cx="1100.10" cy="277.39" r="5.6" fill="#FC3534"/><circle cx="709.95" cy="298.48" r="6.8" fill="#1A78C4"/><circle cx="735.96" cy="298.48" r="7.1" fill="#1A70BA"/><circle cx="761.97" cy="298.48" r="6.5" fill="#12A8E8"/><circle cx="787.98" cy="298.48" r="6.5" fill="#1A7ECA"/><circle cx="813.99" cy="298.48" r="6.4" fill="#60CFF5"/><circle cx="840.00" cy="298.48" r="6.3" fill="#12AEEA"/><circle cx="866.01" cy="298.48" r="6.2" fill="#1A80CA"/><circle cx="892.02" cy="298.48" r="6.2" fill="#129CE0"/><circle cx="918.03" cy="298.48" r="5.6" fill="#129CE0"/><circle cx="944.04" cy="298.48" r="6.9" fill="#E0F4F2"/><circle cx="970.05" cy="298.48" r="6.9" fill="#1C70BA"/><circle cx="996.06" cy="298.48" r="7.0" fill="#1C70BA"/><circle cx="1022.07" cy="298.48" r="6.9" fill="#18B4EE"/><circle cx="1048.08" cy="298.48" r="7.2" fill="#1C74BE"/><circle cx="1074.09" cy="298.48" r="6.0" fill="#18B4EE"/><circle cx="1100.10" cy="298.48" r="6.4" fill="#30C0F2"/><circle cx="709.95" cy="319.57" r="5.1" fill="#1A80CA"/><circle cx="735.96" cy="319.57" r="5.2" fill="#1A80CA"/><circle cx="761.97" cy="319.57" r="6.3" fill="#1590D8"/><circle cx="787.98" cy="319.57" r="6.0" fill="#1A80CA"/><circle cx="813.99" cy="319.57" r="6.4" fill="#129CE0"/><circle cx="840.00" cy="319.57" r="7.5" fill="#60CFF5"/><circle cx="866.01" cy="319.57" r="6.0" fill="#12ACEA"/><circle cx="892.02" cy="319.57" r="6.1" fill="#1599DE"/><circle cx="918.03" cy="319.57" r="6.5" fill="#1A78C4"/><circle cx="944.04" cy="319.57" r="6.9" fill="#1A78C4"/><circle cx="970.05" cy="319.57" r="6.0" fill="#1F66B0"/><circle cx="996.06" cy="319.57" r="6.3" fill="#1F66B0"/><circle cx="1022.07" cy="319.57" r="4.6" fill="#25398A"/><circle cx="1048.08" cy="319.57" r="5.6" fill="#1C70BA"/><circle cx="1074.09" cy="319.57" r="5.6" fill="#40C6F4"/><circle cx="1100.10" cy="319.57" r="6.0" fill="#FDECB0"/><circle cx="709.95" cy="340.66" r="8.0" fill="#1590D8"/><circle cx="735.96" cy="340.66" r="8.0" fill="#1888D0"/><circle cx="761.97" cy="340.66" r="8.3" fill="#1C6EB8"/><circle cx="787.98" cy="340.66" r="8.1" fill="#1888D0"/><circle cx="813.99" cy="340.66" r="8.7" fill="#129CE0"/><circle cx="840.00" cy="340.66" r="9.6" fill="#A0E2F8"/><circle cx="866.01" cy="340.66" r="8.0" fill="#1C70BA"/><circle cx="892.02" cy="340.66" r="8.3" fill="#1F66B0"/><circle cx="918.03" cy="340.66" r="7.9" fill="#1C70BA"/><circle cx="944.04" cy="340.66" r="8.0" fill="#1C70BA"/><circle cx="970.05" cy="340.66" r="8.3" fill="#1888D0"/><circle cx="996.06" cy="340.66" r="8.5" fill="#1590D8"/><circle cx="1022.07" cy="340.66" r="8.4" fill="#12ACEA"/><circle cx="1048.08" cy="340.66" r="8.9" fill="#55CCF3"/><circle cx="1074.09" cy="340.66" r="9.8" fill="#80D6F5"/><circle cx="1100.10" cy="340.66" r="8.7" fill="#F72E34"/><circle cx="709.95" cy="361.75" r="7.1" fill="#1F55A6"/><circle cx="735.96" cy="361.75" r="7.0" fill="#1F55A6"/><circle cx="761.97" cy="361.75" r="6.3" fill="#1F5CA8"/><circle cx="787.98" cy="361.75" r="6.5" fill="#1C6EB8"/><circle cx="813.99" cy="361.75" r="7.0" fill="#1F5CA8"/><circle cx="840.00" cy="361.75" r="7.0" fill="#1F55A6"/><circle cx="866.01" cy="361.75" r="6.0" fill="#243E94"/><circle cx="892.02" cy="361.75" r="5.4" fill="#253A8C"/><circle cx="918.03" cy="361.75" r="5.4" fill="#1F55A6"/><circle cx="944.04" cy="361.75" r="5.6" fill="#1F55A6"/><circle cx="970.05" cy="361.75" r="7.0" fill="#1F4EA0"/><circle cx="996.06" cy="361.75" r="7.5" fill="#1F4EA0"/><circle cx="1022.07" cy="361.75" r="5.4" fill="#1A7ECA"/><circle cx="1048.08" cy="361.75" r="5.4" fill="#1F5CA8"/><circle cx="1074.09" cy="361.75" r="7.7" fill="#1F62AD"/><circle cx="1100.10" cy="361.75" r="9.1" fill="#40C6F4"/><circle cx="709.95" cy="382.84" r="9.3" fill="#1888D0"/><circle cx="735.96" cy="382.84" r="10.0" fill="#1590D8"/><circle cx="761.97" cy="382.84" r="9.8" fill="#1592D8"/><circle cx="787.98" cy="382.84" r="10.1" fill="#1888D2"/><circle cx="813.99" cy="382.84" r="10.7" fill="#10ACEA"/><circle cx="840.00" cy="382.84" r="11.2" fill="#90DCF6"/><circle cx="866.01" cy="382.84" r="9.4" fill="#1599DE"/><circle cx="892.02" cy="382.84" r="9.1" fill="#1888D0"/><circle cx="918.03" cy="382.84" r="9.0" fill="#1A80CA"/><circle cx="944.04" cy="382.84" r="8.7" fill="#1590D8"/><circle cx="970.05" cy="382.84" r="9.5" fill="#129EE2"/><circle cx="996.06" cy="382.84" r="10.0" fill="#14B4EE"/><circle cx="1022.07" cy="382.84" r="7.9" fill="#50CAF3"/><circle cx="1048.08" cy="382.84" r="8.3" fill="#20BCF0"/><circle cx="1074.09" cy="382.84" r="7.1" fill="#18B4EE"/><circle cx="1100.10" cy="382.84" r="7.0" fill="#FF8050"/><circle cx="709.95" cy="403.93" r="9.3" fill="#1888D0"/><circle cx="735.96" cy="403.93" r="9.2" fill="#1592D8"/><circle cx="761.97" cy="403.93" r="9.1" fill="#1888D0"/><circle cx="787.98" cy="403.93" r="9.3" fill="#1A7ECA"/><circle cx="813.99" cy="403.93" r="9.5" fill="#1590D6"/><circle cx="840.00" cy="403.93" r="9.8" fill="#12A4E6"/><circle cx="866.01" cy="403.93" r="9.9" fill="#40C6F4"/><circle cx="892.02" cy="403.93" r="9.3" fill="#1A78C4"/><circle cx="918.03" cy="403.93" r="8.8" fill="#1888D0"/><circle cx="944.04" cy="403.93" r="9.8" fill="#40C6F4"/><circle cx="970.05" cy="403.93" r="9.9" fill="#1590D6"/><circle cx="996.06" cy="403.93" r="10.0" fill="#129CE0"/><circle cx="1022.07" cy="403.93" r="9.2" fill="#50CAF3"/><circle cx="1048.08" cy="403.93" r="9.8" fill="#38C4F2"/><circle cx="1074.09" cy="403.93" r="10.1" fill="#60CFF5"/><circle cx="1100.10" cy="403.93" r="13.3" fill="#48C8F3"/><circle cx="709.95" cy="425.02" r="6.6" fill="#1A80CA"/><circle cx="735.96" cy="425.02" r="6.9" fill="#1C70BA"/><circle cx="761.97" cy="425.02" r="5.6" fill="#1599DE"/><circle cx="787.98" cy="425.02" r="6.0" fill="#23449A"/><circle cx="866.01" cy="425.02" r="5.9" fill="#1A80CA"/><circle cx="892.02" cy="425.02" r="6.3" fill="#1F62AD"/><circle cx="918.03" cy="425.02" r="6.2" fill="#1A70BA"/><circle cx="944.04" cy="425.02" r="6.8" fill="#1C6EB8"/><circle cx="970.05" cy="425.02" r="5.8" fill="#12A2E4"/><circle cx="996.06" cy="425.02" r="5.8" fill="#1590D8"/><circle cx="1022.07" cy="425.02" r="7.5" fill="#1A78C4"/><circle cx="1048.08" cy="425.02" r="7.7" fill="#1888D0"/><circle cx="1074.09" cy="425.02" r="9.1" fill="#12B2EE"/><circle cx="1100.10" cy="425.02" r="7.5" fill="#80D8F5"/><circle cx="709.95" cy="446.11" r="9.5" fill="#23449A"/><circle cx="735.96" cy="446.11" r="9.5" fill="#23449A"/><circle cx="761.97" cy="446.11" r="9.4" fill="#23449A"/><circle cx="787.98" cy="446.11" r="9.5" fill="#23449A"/><circle cx="813.99" cy="446.11" r="9.1" fill="#23449A"/><circle cx="840.00" cy="446.11" r="9.9" fill="#1F4EA0"/><circle cx="866.01" cy="446.11" r="8.0" fill="#23449A"/><circle cx="892.02" cy="446.11" r="9.1" fill="#23449A"/><circle cx="918.03" cy="446.11" r="8.0" fill="#23449A"/><circle cx="944.04" cy="446.11" r="8.5" fill="#23449A"/><circle cx="970.05" cy="446.11" r="8.7" fill="#23449A"/><circle cx="996.06" cy="446.11" r="8.8" fill="#23449A"/><circle cx="1022.07" cy="446.11" r="9.1" fill="#23449A"/><circle cx="1048.08" cy="446.11" r="9.7" fill="#23449A"/><circle cx="1074.09" cy="446.11" r="10.6" fill="#23449A"/><circle cx="1100.10" cy="446.11" r="9.7" fill="#1F62AD"/><circle cx="709.95" cy="467.20" r="6.3" fill="#233F96"/><circle cx="735.96" cy="467.20" r="6.5" fill="#233F96"/><circle cx="761.97" cy="467.20" r="7.3" fill="#233F96"/><circle cx="787.98" cy="467.20" r="7.0" fill="#233F96"/><circle cx="813.99" cy="467.20" r="8.4" fill="#23449A"/><circle cx="840.00" cy="467.20" r="8.3" fill="#1F62AD"/><circle cx="866.01" cy="467.20" r="7.4" fill="#233F96"/><circle cx="892.02" cy="467.20" r="7.6" fill="#233F96"/><circle cx="918.03" cy="467.20" r="7.0" fill="#233F96"/><circle cx="944.04" cy="467.20" r="7.0" fill="#233F96"/><circle cx="970.05" cy="467.20" r="8.6" fill="#23449A"/><circle cx="996.06" cy="467.20" r="8.6" fill="#23449A"/><circle cx="1022.07" cy="467.20" r="5.8" fill="#233F96"/><circle cx="1048.08" cy="467.20" r="5.6" fill="#233F96"/><circle cx="1074.09" cy="467.20" r="5.6" fill="#233F96"/><circle cx="1100.10" cy="467.20" r="4.6" fill="#233F96"/><circle cx="709.95" cy="488.29" r="8.6" fill="#23449A"/><circle cx="735.96" cy="488.29" r="9.0" fill="#23449A"/><circle cx="761.97" cy="488.29" r="7.3" fill="#23449A"/><circle cx="787.98" cy="488.29" r="7.9" fill="#23449A"/><circle cx="813.99" cy="488.29" r="8.3" fill="#23449A"/><circle cx="840.00" cy="488.29" r="8.3" fill="#1F5CA8"/><circle cx="866.01" cy="488.29" r="7.5" fill="#23449A"/><circle cx="892.02" cy="488.29" r="7.6" fill="#23449A"/><circle cx="918.03" cy="488.29" r="7.5" fill="#23449A"/><circle cx="944.04" cy="488.29" r="7.3" fill="#23449A"/><circle cx="970.05" cy="488.29" r="7.2" fill="#23449A"/><circle cx="996.06" cy="488.29" r="7.5" fill="#23449A"/><circle cx="1022.07" cy="488.29" r="6.4" fill="#23449A"/><circle cx="1048.08" cy="488.29" r="6.6" fill="#23449A"/><circle cx="1074.09" cy="488.29" r="6.9" fill="#23449A"/><circle cx="1100.10" cy="488.29" r="6.4" fill="#233F96"/><circle cx="709.95" cy="509.38" r="6.8" fill="#23449A"/><circle cx="735.96" cy="509.38" r="6.9" fill="#23449A"/><circle cx="761.97" cy="509.38" r="6.8" fill="#23449A"/><circle cx="787.98" cy="509.38" r="6.9" fill="#23449A"/><circle cx="813.99" cy="509.38" r="6.9" fill="#23449A"/><circle cx="840.00" cy="509.38" r="6.8" fill="#23449A"/><circle cx="866.01" cy="509.38" r="7.5" fill="#23449A"/><circle cx="892.02" cy="509.38" r="8.3" fill="#23449A"/><circle cx="918.03" cy="509.38" r="7.0" fill="#23449A"/><circle cx="944.04" cy="509.38" r="6.9" fill="#23449A"/><circle cx="970.05" cy="509.38" r="6.4" fill="#23449A"/><circle cx="996.06" cy="509.38" r="6.5" fill="#23449A"/><circle cx="1022.07" cy="509.38" r="6.9" fill="#23449A"/><circle cx="1048.08" cy="509.38" r="6.8" fill="#23449A"/><circle cx="1074.09" cy="509.38" r="5.0" fill="#23449A"/><circle cx="1100.10" cy="509.38" r="4.3" fill="#23449A"/></g><rect x="695.0" y="33.4" width="419.95" height="488.00" fill="none" stroke="#333333" stroke-width="1.4"/><path d="M709.95 521.4V529.0M735.96 521.4V529.0M761.97 521.4V529.0M787.98 521.4V529.0M813.99 521.4V529.0M840.00 521.4V529.0M866.01 521.4V529.0M892.02 521.4V529.0M918.03 521.4V529.0M944.04 521.4V529.0M970.05 521.4V529.0M996.06 521.4V529.0M1022.07 521.4V529.0M1048.08 521.4V529.0M1074.09 521.4V529.0M1100.10 521.4V529.0" stroke="#222222" stroke-width="1.5"/><text transform="translate(717.15,535.6) rotate(-90)" text-anchor="end" font-family="Liberation Sans, Arial, sans-serif" font-size="20.6" fill="#4d4d4d">S1_55</text><text transform="translate(743.16,535.6) rotate(-90)" text-anchor="end" font-family="Liberation Sans, Arial, sans-serif" font-size="20.6" fill="#4d4d4d">S2_55</text><text transform="translate(769.17,535.6) rotate(-90)" text-anchor="end" font-family="Liberation Sans, Arial, sans-serif" font-size="20.6" fill="#4d4d4d">S3_55</text><text transform="translate(795.18,535.6) rotate(-90)" text-anchor="end" font-family="Liberation Sans, Arial, sans-serif" font-size="20.6" fill="#4d4d4d">S4_55</text><text transform="translate(821.19,535.6) rotate(-90)" text-anchor="end" font-family="Liberation Sans, Arial, sans-serif" font-size="20.6" fill="#4d4d4d">S5_55</text><text transform="translate(847.20,535.6) rotate(-90)" text-anchor="end" font-family="Liberation Sans, Arial, sans-serif" font-size="20.6" fill="#4d4d4d">S6_55</text><text transform="translate(873.21,535.6) rotate(-90)" text-anchor="end" font-family="Liberation Sans, Arial, sans-serif" font-size="20.6" fill="#4d4d4d">S7_55</text><text transform="translate(899.22,535.6) rotate(-90)" text-anchor="end" font-family="Liberation Sans, Arial, sans-serif" font-size="20.6" fill="#4d4d4d">S8_55</text><text transform="translate(925.23,535.6) rotate(-90)" text-anchor="end" font-family="Liberation Sans, Arial, sans-serif" font-size="20.6" fill="#4d4d4d">S9_55</text><text transform="translate(951.24,535.6) rotate(-90)" text-anchor="end" font-family="Liberation Sans, Arial, sans-serif" font-size="20.6" fill="#4d4d4d">S10_55</text><text transform="translate(977.25,535.6) rotate(-90)" text-anchor="end" font-family="Liberation Sans, Arial, sans-serif" font-size="20.6" fill="#4d4d4d">S11_55</text><text transform="translate(1003.26,535.6) rotate(-90)" text-anchor="end" font-family="Liberation Sans, Arial, sans-serif" font-size="20.6" fill="#4d4d4d">S12_55</text><text transform="translate(1029.27,535.6) rotate(-90)" text-anchor="end" font-family="Liberation Sans, Arial, sans-serif" font-size="20.6" fill="#4d4d4d">S13_55</text><text transform="translate(1055.28,535.6) rotate(-90)" text-anchor="end" font-family="Liberation Sans, Arial, sans-serif" font-size="20.6" fill="#4d4d4d">S14_55</text><text transform="translate(1081.29,535.6) rotate(-90)" text-anchor="end" font-family="Liberation Sans, Arial, sans-serif" font-size="20.6" fill="#4d4d4d">S15_55</text><text transform="translate(1107.30,535.6) rotate(-90)" text-anchor="end" font-family="Liberation Sans, Arial, sans-serif" font-size="20.6" fill="#4d4d4d">S16_55</text><text x="904.48" y="20" text-anchor="middle" font-family="Liberation Sans, Arial, sans-serif" font-size="22.7" fill="#1a1a1a">55%</text><path d="M1149.95 33.4V521.4M1175.96 33.4V521.4M1201.97 33.4V521.4M1227.98 33.4V521.4M1253.99 33.4V521.4M1280.00 33.4V521.4M1306.01 33.4V521.4M1332.02 33.4V521.4M1358.03 33.4V521.4M1384.04 33.4V521.4M1410.05 33.4V521.4M1436.06 33.4V521.4M1462.07 33.4V521.4M1488.08 33.4V521.4M1514.09 33.4V521.4M1135.0 45.40H1528.85M1135.0 66.49H1528.85M1135.0 87.58H1528.85M1135.0 108.67H1528.85M1135.0 129.76H1528.85M1135.0 150.85H1528.85M1135.0 171.94H1528.85M1135.0 193.03H1528.85M1135.0 214.12H1528.85M1135.0 235.21H1528.85M1135.0 256.30H1528.85M1135.0 277.39H1528.85M1135.0 298.48H1528.85M1135.0 319.57H1528.85M1135.0 340.66H1528.85M1135.0 361.75H1528.85M1135.0 382.84H1528.85M1135.0 403.93H1528.85M1135.0 425.02H1528.85M1135.0 446.11H1528.85M1135.0 467.20H1528.85M1135.0 488.29H1528.85M1135.0 509.38H1528.85" stroke="#f3f3f3" stroke-width="1" fill="none"/><g clip-path="url(#cp2)" stroke="rgba(75,75,75,0.45)" stroke-width="1.1"><circle cx="1149.95" cy="66.49" r="14.1" fill="#FD3236"/><circle cx="1175.96" cy="66.49" r="12.5" fill="#DC283A"/><circle cx="1201.97" cy="66.49" r="14.5" fill="#FF4038"/><circle cx="1227.98" cy="66.49" r="14.0" fill="#F52C38"/><circle cx="1253.99" cy="66.49" r="15.5" fill="#FF7048"/><circle cx="1280.00" cy="66.49" r="14.5" fill="#F93236"/><circle cx="1306.01" cy="66.49" r="15.0" fill="#FC3236"/><circle cx="1332.02" cy="66.49" r="15.9" fill="#FD3A38"/><circle cx="1358.03" cy="66.49" r="14.0" fill="#F72E38"/><circle cx="1384.04" cy="66.49" r="14.5" fill="#FC3236"/><circle cx="1410.05" cy="66.49" r="15.5" fill="#FD3236"/><circle cx="1436.06" cy="66.49" r="7.7" fill="#E52A36"/><circle cx="1462.07" cy="66.49" r="8.1" fill="#F93034"/><circle cx="1488.08" cy="66.49" r="4.5" fill="#F93034"/><circle cx="1514.09" cy="66.49" r="6.2" fill="#1888D0"/><circle cx="1149.95" cy="45.40" r="10.5" fill="#FF6044"/><circle cx="1175.96" cy="45.40" r="12.4" fill="#EF283E"/><circle cx="1201.97" cy="45.40" r="7.3" fill="#FCD090"/><circle cx="1227.98" cy="45.40" r="7.0" fill="#F52C38"/><circle cx="1253.99" cy="45.40" r="7.8" fill="#FDF4C0"/><circle cx="1280.00" cy="45.40" r="6.8" fill="#FF4A39"/><circle cx="1306.01" cy="45.40" r="10.6" fill="#5ACEF5"/><circle cx="1332.02" cy="45.40" r="6.6" fill="#B8EAF8"/><circle cx="1358.03" cy="45.40" r="9.2" fill="#F52C38"/><circle cx="1384.04" cy="45.40" r="7.6" fill="#FF583C"/><circle cx="1410.05" cy="45.40" r="7.6" fill="#FF8A55"/><circle cx="1436.06" cy="45.40" r="14.7" fill="#FF7C4C"/><circle cx="1462.07" cy="45.40" r="15.9" fill="#FF553C"/><circle cx="1488.08" cy="45.40" r="9.5" fill="#A01F4C"/><circle cx="1514.09" cy="45.40" r="7.0" fill="#FCC080"/><circle cx="1149.95" cy="87.58" r="4.4" fill="#F73034"/><circle cx="1175.96" cy="87.58" r="4.6" fill="#8E1F4F"/><circle cx="1201.97" cy="87.58" r="4.7" fill="#F52C38"/><circle cx="1253.99" cy="87.58" r="4.7" fill="#D42838"/><circle cx="1280.00" cy="87.58" r="6.6" fill="#8E1F4F"/><circle cx="1306.01" cy="87.58" r="5.5" fill="#921F4E"/><circle cx="1358.03" cy="87.58" r="4.3" fill="#F52C38"/><circle cx="1149.95" cy="129.76" r="6.6" fill="#1F4EA0"/><circle cx="1253.99" cy="129.76" r="4.0" fill="#25398A"/><circle cx="1306.01" cy="129.76" r="4.8" fill="#23409A"/><circle cx="1358.03" cy="129.76" r="5.0" fill="#253A8C"/><circle cx="1384.04" cy="129.76" r="4.7" fill="#253A8C"/><circle cx="1436.06" cy="129.76" r="8.1" fill="#1C66B2"/><circle cx="1462.07" cy="129.76" r="8.1" fill="#1A78C4"/><circle cx="1488.08" cy="129.76" r="9.3" fill="#1E66B0"/><circle cx="1514.09" cy="129.76" r="9.3" fill="#1888D0"/><circle cx="1149.95" cy="150.85" r="9.0" fill="#1F5EAA"/><circle cx="1175.96" cy="150.85" r="7.9" fill="#1F62AD"/><circle cx="1201.97" cy="150.85" r="8.3" fill="#1F5EAA"/><circle cx="1227.98" cy="150.85" r="7.6" fill="#1F4EA0"/><circle cx="1253.99" cy="150.85" r="8.9" fill="#1F4EA0"/><circle cx="1280.00" cy="150.85" r="9.8" fill="#1C6AB6"/><circle cx="1306.01" cy="150.85" r="7.9" fill="#1F4EA0"/><circle cx="1332.02" cy="150.85" r="8.4" fill="#1F55A6"/><circle cx="1358.03" cy="150.85" r="8.7" fill="#1F5CA8"/><circle cx="1384.04" cy="150.85" r="7.5" fill="#1F4EA0"/><circle cx="1410.05" cy="150.85" r="6.9" fill="#1F5CA8"/><circle cx="1436.06" cy="150.85" r="7.5" fill="#1A70BA"/><circle cx="1462.07" cy="150.85" r="7.6" fill="#1C6EB8"/><circle cx="1488.08" cy="150.85" r="11.4" fill="#129EE2"/><circle cx="1514.09" cy="150.85" r="8.3" fill="#70D2F5"/><circle cx="1149.95" cy="171.94" r="7.5" fill="#1F5EAA"/><circle cx="1175.96" cy="171.94" r="6.9" fill="#1A78C4"/><circle cx="1201.97" cy="171.94" r="6.6" fill="#1F5EAA"/><circle cx="1227.98" cy="171.94" r="6.5" fill="#1A70BA"/><circle cx="1253.99" cy="171.94" r="8.0" fill="#1F4EA0"/><circle cx="1280.00" cy="171.94" r="6.1" fill="#1F4EA0"/><circle cx="1306.01" cy="171.94" r="7.4" fill="#1F4EA0"/><circle cx="1332.02" cy="171.94" r="7.1" fill="#1F5CA8"/><circle cx="1358.03" cy="171.94" r="7.4" fill="#1F5CA8"/><circle cx="1384.04" cy="171.94" r="5.3" fill="#25398A"/><circle cx="1410.05" cy="171.94" r="6.0" fill="#23409A"/><circle cx="1436.06" cy="171.94" r="8.0" fill="#1590D8"/><circle cx="1462.07" cy="171.94" r="8.0" fill="#1599DE"/><circle cx="1488.08" cy="171.94" r="9.0" fill="#FF8850"/><circle cx="1514.09" cy="171.94" r="8.1" fill="#FC3A36"/><circle cx="1149.95" cy="193.03" r="8.0" fill="#129CE0"/><circle cx="1175.96" cy="193.03" r="8.3" fill="#1A78C4"/><circle cx="1201.97" cy="193.03" r="7.3" fill="#1F5CA8"/><circle cx="1227.98" cy="193.03" r="6.9" fill="#1A78C4"/><circle cx="1253.99" cy="193.03" r="7.5" fill="#1F4EA0"/><circle cx="1280.00" cy="193.03" r="8.3" fill="#1C6EB8"/><circle cx="1306.01" cy="193.03" r="7.4" fill="#1F4EA0"/><circle cx="1332.02" cy="193.03" r="7.5" fill="#1F55A6"/><circle cx="1358.03" cy="193.03" r="7.4" fill="#1F62AD"/><circle cx="1384.04" cy="193.03" r="7.5" fill="#1F62AD"/><circle cx="1410.05" cy="193.03" r="6.9" fill="#1C6AB6"/><circle cx="1436.06" cy="193.03" r="8.3" fill="#1599DE"/><circle cx="1462.07" cy="193.03" r="8.5" fill="#12AAE8"/><circle cx="1488.08" cy="193.03" r="8.7" fill="#FF8050"/><circle cx="1514.09" cy="193.03" r="7.8" fill="#FC3A36"/><circle cx="1149.95" cy="214.12" r="9.5" fill="#1A78C4"/><circle cx="1175.96" cy="214.12" r="9.9" fill="#12ACEA"/><circle cx="1201.97" cy="214.12" r="9.5" fill="#1A80CA"/><circle cx="1227.98" cy="214.12" r="9.7" fill="#1590D8"/><circle cx="1253.99" cy="214.12" r="8.9" fill="#1F5EAA"/><circle cx="1280.00" cy="214.12" r="10.3" fill="#1A70BA"/><circle cx="1306.01" cy="214.12" r="8.2" fill="#1F4EA0"/><circle cx="1332.02" cy="214.12" r="9.3" fill="#1F5CA8"/><circle cx="1358.03" cy="214.12" r="9.9" fill="#1F5EAA"/><circle cx="1384.04" cy="214.12" r="9.8" fill="#1A80CA"/><circle cx="1410.05" cy="214.12" r="9.1" fill="#1888D0"/><circle cx="1436.06" cy="214.12" r="9.0" fill="#12ACEA"/><circle cx="1462.07" cy="214.12" r="8.7" fill="#12A8E8"/><circle cx="1488.08" cy="214.12" r="12.7" fill="#FDD094"/><circle cx="1514.09" cy="214.12" r="11.0" fill="#FC3836"/><circle cx="1149.95" cy="235.21" r="6.9" fill="#40C6F4"/><circle cx="1175.96" cy="235.21" r="6.8" fill="#FCC888"/><circle cx="1201.97" cy="235.21" r="6.1" fill="#A8E4F8"/><circle cx="1227.98" cy="235.21" r="5.4" fill="#1A78C4"/><circle cx="1280.00" cy="235.21" r="6.0" fill="#1A78C4"/><circle cx="1332.02" cy="235.21" r="5.9" fill="#1C70BA"/><circle cx="1358.03" cy="235.21" r="6.2" fill="#55CCF3"/><circle cx="1384.04" cy="235.21" r="4.6" fill="#F0F8F0"/><circle cx="1410.05" cy="235.21" r="5.1" fill="#E02838"/><circle cx="1436.06" cy="235.21" r="6.8" fill="#FDE4A8"/><circle cx="1462.07" cy="235.21" r="6.6" fill="#FF5A3E"/><circle cx="1488.08" cy="235.21" r="8.3" fill="#FFA060"/><circle cx="1514.09" cy="235.21" r="10.4" fill="#F93436"/><circle cx="1149.95" cy="256.30" r="7.0" fill="#1590D8"/><circle cx="1175.96" cy="256.30" r="9.4" fill="#30C0F2"/><circle cx="1201.97" cy="256.30" r="6.1" fill="#1A78C4"/><circle cx="1227.98" cy="256.30" r="7.3" fill="#1F62AD"/><circle cx="1280.00" cy="256.30" r="4.6" fill="#253A8C"/><circle cx="1332.02" cy="256.30" r="5.2" fill="#129CE0"/><circle cx="1358.03" cy="256.30" r="6.2" fill="#1590D8"/><circle cx="1410.05" cy="256.30" r="3.5" fill="#25398A"/><circle cx="1436.06" cy="256.30" r="8.0" fill="#129CE0"/><circle cx="1462.07" cy="256.30" r="8.3" fill="#12A4E6"/><circle cx="1488.08" cy="256.30" r="12.2" fill="#FF8A55"/><circle cx="1514.09" cy="256.30" r="11.9" fill="#FD4A3A"/><circle cx="1201.97" cy="277.39" r="11.4" fill="#FDF0B8"/><circle cx="1227.98" cy="277.39" r="12.5" fill="#FF523C"/><circle cx="1253.99" cy="277.39" r="6.6" fill="#D0F0FA"/><circle cx="1280.00" cy="277.39" r="8.5" fill="#FBB478"/><circle cx="1306.01" cy="277.39" r="6.5" fill="#C0ECF8"/><circle cx="1332.02" cy="277.39" r="7.0" fill="#40C6F4"/><circle cx="1358.03" cy="277.39" r="8.3" fill="#FCD49A"/><circle cx="1384.04" cy="277.39" r="6.8" fill="#F4F6E0"/><circle cx="1410.05" cy="277.39" r="6.9" fill="#60CFF5"/><circle cx="1436.06" cy="277.39" r="4.4" fill="#1A78C4"/><circle cx="1462.07" cy="277.39" r="5.0" fill="#B02044"/><circle cx="1488.08" cy="277.39" r="5.0" fill="#8E1F4F"/><circle cx="1514.09" cy="277.39" r="5.0" fill="#EF2A3A"/><circle cx="1149.95" cy="298.48" r="7.2" fill="#1A78C4"/><circle cx="1175.96" cy="298.48" r="7.7" fill="#1A78C4"/><circle cx="1201.97" cy="298.48" r="6.5" fill="#1A80CA"/><circle cx="1227.98" cy="298.48" r="6.9" fill="#1F5CA8"/><circle cx="1253.99" cy="298.48" r="6.8" fill="#1F5CA8"/><circle cx="1280.00" cy="298.48" r="5.8" fill="#1888D0"/><circle cx="1306.01" cy="298.48" r="6.4" fill="#1A80CA"/><circle cx="1332.02" cy="298.48" r="5.9" fill="#1F66B0"/><circle cx="1358.03" cy="298.48" r="6.2" fill="#129CE0"/><circle cx="1384.04" cy="298.48" r="6.2" fill="#1E66B2"/><circle cx="1410.05" cy="298.48" r="7.0" fill="#1A78C4"/><circle cx="1436.06" cy="298.48" r="7.0" fill="#1A70BA"/><circle cx="1462.07" cy="298.48" r="7.3" fill="#1A80CA"/><circle cx="1488.08" cy="298.48" r="6.6" fill="#E8F6F0"/><circle cx="1514.09" cy="298.48" r="6.4" fill="#1A70BA"/><circle cx="1149.95" cy="319.57" r="5.1" fill="#1590D8"/><circle cx="1175.96" cy="319.57" r="6.0" fill="#1590D8"/><circle cx="1201.97" cy="319.57" r="7.1" fill="#1888D0"/><circle cx="1227.98" cy="319.57" r="7.3" fill="#12B0EC"/><circle cx="1253.99" cy="319.57" r="6.4" fill="#1F5CA8"/><circle cx="1280.00" cy="319.57" r="7.5" fill="#129EE2"/><circle cx="1306.01" cy="319.57" r="6.0" fill="#129EE2"/><circle cx="1332.02" cy="319.57" r="7.4" fill="#12B0EC"/><circle cx="1358.03" cy="319.57" r="8.0" fill="#129EE2"/><circle cx="1384.04" cy="319.57" r="6.8" fill="#1590D8"/><circle cx="1410.05" cy="319.57" r="7.2" fill="#1A78C4"/><circle cx="1436.06" cy="319.57" r="5.2" fill="#1888D0"/><circle cx="1462.07" cy="319.57" r="5.1" fill="#25398A"/><circle cx="1488.08" cy="319.57" r="5.7" fill="#1A80CA"/><circle cx="1514.09" cy="319.57" r="5.5" fill="#1888D0"/><circle cx="1149.95" cy="340.66" r="7.9" fill="#1A70BA"/><circle cx="1175.96" cy="340.66" r="8.3" fill="#1888D0"/><circle cx="1201.97" cy="340.66" r="7.1" fill="#129CE0"/><circle cx="1227.98" cy="340.66" r="7.3" fill="#1888D0"/><circle cx="1253.99" cy="340.66" r="7.3" fill="#1F5CA8"/><circle cx="1280.00" cy="340.66" r="7.5" fill="#1A78C4"/><circle cx="1306.01" cy="340.66" r="7.9" fill="#1F55A6"/><circle cx="1332.02" cy="340.66" r="7.5" fill="#1A70BA"/><circle cx="1358.03" cy="340.66" r="7.9" fill="#1A7ECA"/><circle cx="1384.04" cy="340.66" r="7.3" fill="#1A78C4"/><circle cx="1410.05" cy="340.66" r="7.2" fill="#1F5CA8"/><circle cx="1436.06" cy="340.66" r="8.5" fill="#129CE0"/><circle cx="1462.07" cy="340.66" r="9.1" fill="#12A4E6"/><circle cx="1488.08" cy="340.66" r="10.4" fill="#FDCF94"/><circle cx="1514.09" cy="340.66" r="9.4" fill="#F93436"/><circle cx="1149.95" cy="361.75" r="6.8" fill="#23449A"/><circle cx="1175.96" cy="361.75" r="6.4" fill="#233F96"/><circle cx="1201.97" cy="361.75" r="5.0" fill="#253A8C"/><circle cx="1227.98" cy="361.75" r="5.0" fill="#253A8C"/><circle cx="1253.99" cy="361.75" r="6.0" fill="#1F4EA0"/><circle cx="1306.01" cy="361.75" r="5.7" fill="#25398A"/><circle cx="1358.03" cy="361.75" r="4.0" fill="#253A8C"/><circle cx="1410.05" cy="361.75" r="4.0" fill="#253A8C"/><circle cx="1436.06" cy="361.75" r="5.2" fill="#1F5EAA"/><circle cx="1462.07" cy="361.75" r="5.5" fill="#1F55A6"/><circle cx="1488.08" cy="361.75" r="7.9" fill="#1A78C4"/><circle cx="1514.09" cy="361.75" r="9.0" fill="#12B0EC"/><circle cx="1149.95" cy="382.84" r="9.0" fill="#1A78C4"/><circle cx="1175.96" cy="382.84" r="7.5" fill="#30C0F2"/><circle cx="1201.97" cy="382.84" r="7.0" fill="#1888D0"/><circle cx="1227.98" cy="382.84" r="7.2" fill="#1C6EB8"/><circle cx="1253.99" cy="382.84" r="8.0" fill="#1C6AB6"/><circle cx="1280.00" cy="382.84" r="7.5" fill="#1590D8"/><circle cx="1306.01" cy="382.84" r="8.0" fill="#1F62AD"/><circle cx="1332.02" cy="382.84" r="7.2" fill="#1F5EAA"/><circle cx="1358.03" cy="382.84" r="7.9" fill="#1A78C4"/><circle cx="1384.04" cy="382.84" r="6.8" fill="#14B2EC"/><circle cx="1410.05" cy="382.84" r="6.9" fill="#1A78C4"/><circle cx="1436.06" cy="382.84" r="8.0" fill="#129EE2"/><circle cx="1462.07" cy="382.84" r="8.5" fill="#12ACEA"/><circle cx="1488.08" cy="382.84" r="7.5" fill="#FF4A39"/><circle cx="1514.09" cy="382.84" r="7.7" fill="#FCCB8E"/><circle cx="1149.95" cy="403.93" r="9.3" fill="#1A70BA"/><circle cx="1175.96" cy="403.93" r="9.4" fill="#1888D0"/><circle cx="1201.97" cy="403.93" r="8.3" fill="#1A70BA"/><circle cx="1227.98" cy="403.93" r="8.0" fill="#1F55A6"/><circle cx="1253.99" cy="403.93" r="8.9" fill="#1F62AD"/><circle cx="1280.00" cy="403.93" r="10.3" fill="#5ACEF5"/><circle cx="1306.01" cy="403.93" r="9.2" fill="#1F5EAA"/><circle cx="1332.02" cy="403.93" r="9.5" fill="#10AAEA"/><circle cx="1358.03" cy="403.93" r="10.7" fill="#FDE4A8"/><circle cx="1384.04" cy="403.93" r="9.6" fill="#E8F6EC"/><circle cx="1410.05" cy="403.93" r="8.5" fill="#10ACEA"/><circle cx="1436.06" cy="403.93" r="9.4" fill="#129CE0"/><circle cx="1462.07" cy="403.93" r="9.5" fill="#1599DE"/><circle cx="1488.08" cy="403.93" r="10.4" fill="#80D8F5"/><circle cx="1514.09" cy="403.93" r="12.8" fill="#5ACEF5"/><circle cx="1149.95" cy="425.02" r="7.3" fill="#1599DE"/><circle cx="1175.96" cy="425.02" r="7.4" fill="#1A80CA"/><circle cx="1201.97" cy="425.02" r="8.6" fill="#1A70BA"/><circle cx="1227.98" cy="425.02" r="7.9" fill="#1A78C4"/><circle cx="1253.99" cy="425.02" r="7.2" fill="#1F55A6"/><circle cx="1280.00" cy="425.02" r="8.8" fill="#1F62AD"/><circle cx="1306.01" cy="425.02" r="7.5" fill="#1F55A6"/><circle cx="1332.02" cy="425.02" r="8.0" fill="#1E66B2"/><circle cx="1358.03" cy="425.02" r="8.3" fill="#1A78C4"/><circle cx="1384.04" cy="425.02" r="9.3" fill="#1F5EAA"/><circle cx="1410.05" cy="425.02" r="8.5" fill="#1F5EAA"/><circle cx="1436.06" cy="425.02" r="7.5" fill="#1A78C4"/><circle cx="1462.07" cy="425.02" r="8.0" fill="#1888D0"/><circle cx="1488.08" cy="425.02" r="9.0" fill="#30C0F2"/><circle cx="1514.09" cy="425.02" r="8.5" fill="#20BCF0"/><circle cx="1149.95" cy="446.11" r="9.8" fill="#23449A"/><circle cx="1175.96" cy="446.11" r="9.1" fill="#23449A"/><circle cx="1201.97" cy="446.11" r="8.3" fill="#23449A"/><circle cx="1227.98" cy="446.11" r="8.5" fill="#23449A"/><circle cx="1253.99" cy="446.11" r="7.2" fill="#233F96"/><circle cx="1280.00" cy="446.11" r="8.0" fill="#1F4EA0"/><circle cx="1306.01" cy="446.11" r="9.0" fill="#23449A"/><circle cx="1332.02" cy="446.11" r="9.2" fill="#23449A"/><circle cx="1358.03" cy="446.11" r="8.5" fill="#23449A"/><circle cx="1384.04" cy="446.11" r="6.9" fill="#23449A"/><circle cx="1410.05" cy="446.11" r="7.4" fill="#23449A"/><circle cx="1436.06" cy="446.11" r="9.7" fill="#23449A"/><circle cx="1462.07" cy="446.11" r="9.9" fill="#23449A"/><circle cx="1488.08" cy="446.11" r="10.4" fill="#1F5CA8"/><circle cx="1514.09" cy="446.11" r="9.7" fill="#1F62AD"/><circle cx="1149.95" cy="467.20" r="6.8" fill="#233F96"/><circle cx="1175.96" cy="467.20" r="6.5" fill="#233F96"/><circle cx="1201.97" cy="467.20" r="7.1" fill="#233F96"/><circle cx="1227.98" cy="467.20" r="7.7" fill="#23449A"/><circle cx="1253.99" cy="467.20" r="8.0" fill="#23449A"/><circle cx="1280.00" cy="467.20" r="8.3" fill="#23449A"/><circle cx="1306.01" cy="467.20" r="7.7" fill="#233F96"/><circle cx="1332.02" cy="467.20" r="7.7" fill="#233F96"/><circle cx="1358.03" cy="467.20" r="8.2" fill="#233F96"/><circle cx="1384.04" cy="467.20" r="8.1" fill="#23449A"/><circle cx="1410.05" cy="467.20" r="7.9" fill="#23449A"/><circle cx="1436.06" cy="467.20" r="6.2" fill="#233F96"/><circle cx="1462.07" cy="467.20" r="6.2" fill="#233F96"/><circle cx="1488.08" cy="467.20" r="5.4" fill="#233F96"/><circle cx="1514.09" cy="467.20" r="5.0" fill="#233F96"/><circle cx="1149.95" cy="488.29" r="8.8" fill="#23449A"/><circle cx="1175.96" cy="488.29" r="8.2" fill="#23449A"/><circle cx="1201.97" cy="488.29" r="8.0" fill="#23449A"/><circle cx="1227.98" cy="488.29" r="8.5" fill="#23449A"/><circle cx="1253.99" cy="488.29" r="8.0" fill="#23449A"/><circle cx="1280.00" cy="488.29" r="8.1" fill="#23449A"/><circle cx="1306.01" cy="488.29" r="7.9" fill="#23449A"/><circle cx="1332.02" cy="488.29" r="7.7" fill="#23449A"/><circle cx="1358.03" cy="488.29" r="8.2" fill="#23449A"/><circle cx="1384.04" cy="488.29" r="8.1" fill="#23449A"/><circle cx="1410.05" cy="488.29" r="7.9" fill="#23449A"/><circle cx="1436.06" cy="488.29" r="7.0" fill="#23449A"/><circle cx="1462.07" cy="488.29" r="7.0" fill="#23449A"/><circle cx="1488.08" cy="488.29" r="6.9" fill="#23449A"/><circle cx="1514.09" cy="488.29" r="6.5" fill="#1F4EA0"/><circle cx="1149.95" cy="509.38" r="6.6" fill="#233F96"/><circle cx="1175.96" cy="509.38" r="6.5" fill="#23449A"/><circle cx="1201.97" cy="509.38" r="6.8" fill="#23449A"/><circle cx="1227.98" cy="509.38" r="6.5" fill="#233F96"/><circle cx="1253.99" cy="509.38" r="6.6" fill="#23449A"/><circle cx="1280.00" cy="509.38" r="8.0" fill="#23449A"/><circle cx="1306.01" cy="509.38" r="7.7" fill="#23449A"/><circle cx="1332.02" cy="509.38" r="7.4" fill="#23449A"/><circle cx="1358.03" cy="509.38" r="7.0" fill="#23449A"/><circle cx="1384.04" cy="509.38" r="6.5" fill="#23449A"/><circle cx="1410.05" cy="509.38" r="6.8" fill="#23449A"/><circle cx="1436.06" cy="509.38" r="7.0" fill="#23449A"/><circle cx="1462.07" cy="509.38" r="6.8" fill="#23449A"/><circle cx="1488.08" cy="509.38" r="4.6" fill="#23449A"/><circle cx="1514.09" cy="509.38" r="4.6" fill="#23449A"/></g><rect x="1135.0" y="33.4" width="393.85" height="488.00" fill="none" stroke="#333333" stroke-width="1.4"/><path d="M1149.95 521.4V529.0M1175.96 521.4V529.0M1201.97 521.4V529.0M1227.98 521.4V529.0M1253.99 521.4V529.0M1280.00 521.4V529.0M1306.01 521.4V529.0M1332.02 521.4V529.0M1358.03 521.4V529.0M1384.04 521.4V529.0M1410.05 521.4V529.0M1436.06 521.4V529.0M1462.07 521.4V529.0M1488.08 521.4V529.0M1514.09 521.4V529.0" stroke="#222222" stroke-width="1.5"/><text transform="translate(1157.15,535.6) rotate(-90)" text-anchor="end" font-family="Liberation Sans, Arial, sans-serif" font-size="20.6" fill="#4d4d4d">S1_1</text><text transform="translate(1183.16,535.6) rotate(-90)" text-anchor="end" font-family="Liberation Sans, Arial, sans-serif" font-size="20.6" fill="#4d4d4d">S2_1</text><text transform="translate(1209.17,535.6) rotate(-90)" text-anchor="end" font-family="Liberation Sans, Arial, sans-serif" font-size="20.6" fill="#4d4d4d">S3_1</text><text transform="translate(1235.18,535.6) rotate(-90)" text-anchor="end" font-family="Liberation Sans, Arial, sans-serif" font-size="20.6" fill="#4d4d4d">S4_1</text><text transform="translate(1261.19,535.6) rotate(-90)" text-anchor="end" font-family="Liberation Sans, Arial, sans-serif" font-size="20.6" fill="#4d4d4d">S6_1</text><text transform="translate(1287.20,535.6) rotate(-90)" text-anchor="end" font-family="Liberation Sans, Arial, sans-serif" font-size="20.6" fill="#4d4d4d">S7_1</text><text transform="translate(1313.21,535.6) rotate(-90)" text-anchor="end" font-family="Liberation Sans, Arial, sans-serif" font-size="20.6" fill="#4d4d4d">S8_1</text><text transform="translate(1339.22,535.6) rotate(-90)" text-anchor="end" font-family="Liberation Sans, Arial, sans-serif" font-size="20.6" fill="#4d4d4d">S9_1</text><text transform="translate(1365.23,535.6) rotate(-90)" text-anchor="end" font-family="Liberation Sans, Arial, sans-serif" font-size="20.6" fill="#4d4d4d">S10_1</text><text transform="translate(1391.24,535.6) rotate(-90)" text-anchor="end" font-family="Liberation Sans, Arial, sans-serif" font-size="20.6" fill="#4d4d4d">S11_1</text><text transform="translate(1417.25,535.6) rotate(-90)" text-anchor="end" font-family="Liberation Sans, Arial, sans-serif" font-size="20.6" fill="#4d4d4d">S12_1</text><text transform="translate(1443.26,535.6) rotate(-90)" text-anchor="end" font-family="Liberation Sans, Arial, sans-serif" font-size="20.6" fill="#4d4d4d">S13_1</text><text transform="translate(1469.27,535.6) rotate(-90)" text-anchor="end" font-family="Liberation Sans, Arial, sans-serif" font-size="20.6" fill="#4d4d4d">S14_1</text><text transform="translate(1495.28,535.6) rotate(-90)" text-anchor="end" font-family="Liberation Sans, Arial, sans-serif" font-size="20.6" fill="#4d4d4d">S15_1</text><text transform="translate(1521.29,535.6) rotate(-90)" text-anchor="end" font-family="Liberation Sans, Arial, sans-serif" font-size="20.6" fill="#4d4d4d">S16_1</text><text x="1331.42" y="20" text-anchor="middle" font-family="Liberation Sans, Arial, sans-serif" font-size="22.7" fill="#1a1a1a">1%</text><text x="240.6" y="52.80" text-anchor="end" font-family="Liberation Sans, Arial, sans-serif" font-size="20.6" fill="#4d4d4d">Synechococcus</text><text x="240.6" y="73.89" text-anchor="end" font-family="Liberation Sans, Arial, sans-serif" font-size="20.6" fill="#4d4d4d">Prochlorococcus</text><text x="240.6" y="94.98" text-anchor="end" font-family="Liberation Sans, Arial, sans-serif" font-size="20.6" fill="#4d4d4d">Trichodesmium</text><text x="240.6" y="116.07" text-anchor="end" font-family="Liberation Sans, Arial, sans-serif" font-size="20.6" fill="#4d4d4d">UCYN-A</text><text x="240.6" y="137.16" text-anchor="end" font-family="Liberation Sans, Arial, sans-serif" font-size="20.6" fill="#4d4d4d">Formosa</text><text x="240.6" y="158.25" text-anchor="end" font-family="Liberation Sans, Arial, sans-serif" font-size="20.6" fill="#4d4d4d">NS2b marine group</text><text x="240.6" y="179.34" text-anchor="end" font-family="Liberation Sans, Arial, sans-serif" font-size="20.6" fill="#4d4d4d">NS4 marine group</text><text x="240.6" y="200.43" text-anchor="end" font-family="Liberation Sans, Arial, sans-serif" font-size="20.6" fill="#4d4d4d">NS5 marine group</text><text x="240.6" y="221.52" text-anchor="end" font-family="Liberation Sans, Arial, sans-serif" font-size="20.6" fill="#4d4d4d">NS9 marine group</text><text x="240.6" y="242.61" text-anchor="end" font-family="Liberation Sans, Arial, sans-serif" font-size="20.6" fill="#4d4d4d">NS10 marine group</text><text x="240.6" y="263.70" text-anchor="end" font-family="Liberation Sans, Arial, sans-serif" font-size="20.6" fill="#4d4d4d">SUP05 clade</text><text x="240.6" y="284.79" text-anchor="end" font-family="Liberation Sans, Arial, sans-serif" font-size="20.6" fill="#4d4d4d">Alteromonas</text><text x="240.6" y="305.88" text-anchor="end" font-family="Liberation Sans, Arial, sans-serif" font-size="20.6" fill="#4d4d4d">OM75 clade</text><text x="240.6" y="326.97" text-anchor="end" font-family="Liberation Sans, Arial, sans-serif" font-size="20.6" fill="#4d4d4d">Marinobacter</text><text x="240.6" y="348.06" text-anchor="end" font-family="Liberation Sans, Arial, sans-serif" font-size="20.6" fill="#4d4d4d">SAR86</text><text x="240.6" y="369.15" text-anchor="end" font-family="Liberation Sans, Arial, sans-serif" font-size="20.6" fill="#4d4d4d">SAR92</text><text x="240.6" y="390.24" text-anchor="end" font-family="Liberation Sans, Arial, sans-serif" font-size="20.6" fill="#4d4d4d">SAR116</text><text x="240.6" y="411.33" text-anchor="end" font-family="Liberation Sans, Arial, sans-serif" font-size="20.6" fill="#4d4d4d">Rhodobacteriaceae</text><text x="240.6" y="432.42" text-anchor="end" font-family="Liberation Sans, Arial, sans-serif" font-size="20.6" fill="#4d4d4d">OCS116</text><text x="240.6" y="453.51" text-anchor="end" font-family="Liberation Sans, Arial, sans-serif" font-size="20.6" fill="#4d4d4d">SAR11 Ia</text><text x="240.6" y="474.60" text-anchor="end" font-family="Liberation Sans, Arial, sans-serif" font-size="20.6" fill="#4d4d4d">SAR11 Ib</text><text x="240.6" y="495.69" text-anchor="end" font-family="Liberation Sans, Arial, sans-serif" font-size="20.6" fill="#4d4d4d">SAR11 II</text><text x="240.6" y="516.78" text-anchor="end" font-family="Liberation Sans, Arial, sans-serif" font-size="20.6" fill="#4d4d4d">Candidatus Actinomarina</text><path d="M247.15 45.40H254.75M247.15 66.49H254.75M247.15 87.58H254.75M247.15 108.67H254.75M247.15 129.76H254.75M247.15 150.85H254.75M247.15 171.94H254.75M247.15 193.03H254.75M247.15 214.12H254.75M247.15 235.21H254.75M247.15 256.30H254.75M247.15 277.39H254.75M247.15 298.48H254.75M247.15 319.57H254.75M247.15 340.66H254.75M247.15 361.75H254.75M247.15 382.84H254.75M247.15 403.93H254.75M247.15 425.02H254.75M247.15 446.11H254.75M247.15 467.20H254.75M247.15 488.29H254.75M247.15 509.38H254.75" stroke="#222222" stroke-width="1.5"/><text x="609.6" y="697" font-family="Liberation Sans, Arial, sans-serif" font-size="20.6" fill="#1a1a1a">16S Ratio</text><rect x="609.4" y="708.8" width="222.70" height="45.10" fill="url(#cbar)" stroke="rgba(10,10,10,0.85)" stroke-width="1"/><path d="M630.55 708.8V717.8M630.55 753.9V744.9M715.15 708.8V717.8M715.15 753.9V744.9M820.89 708.8V717.8M820.89 753.9V744.9" stroke="#1a1a1a" stroke-width="1.2"/><text x="609.40" y="779" text-anchor="middle" font-family="Liberation Sans, Arial, sans-serif" font-size="20" fill="#1a1a1a">0</text><text x="630.55" y="779" text-anchor="middle" font-family="Liberation Sans, Arial, sans-serif" font-size="20" fill="#1a1a1a">1</text><text x="715.15" y="779" text-anchor="middle" font-family="Liberation Sans, Arial, sans-serif" font-size="20" fill="#1a1a1a">5</text><text x="820.89" y="779" text-anchor="middle" font-family="Liberation Sans, Arial, sans-serif" font-size="20" fill="#1a1a1a">10</text><text x="888.9" y="696.5" font-family="Liberation Sans, Arial, sans-serif" font-size="20.8" fill="#1a1a1a">Rel. Abundance</text><circle cx="911.1" cy="731.1" r="8.0" fill="none" stroke="#b2b2b2" stroke-width="1.2"/><text x="944.6" y="738.8" font-family="Liberation Sans, Arial, sans-serif" font-size="20" fill="#1a1a1a">1%</text><circle cx="1005.5" cy="731.1" r="9.9" fill="none" stroke="#b2b2b2" stroke-width="1.2"/><text x="1038.4" y="738.8" font-family="Liberation Sans, Arial, sans-serif" font-size="20" fill="#1a1a1a">5%</text><circle cx="1100.8" cy="731.1" r="11.5" fill="none" stroke="#b2b2b2" stroke-width="1.2"/><text x="1134.3" y="738.8" font-family="Liberation Sans, Arial, sans-serif" font-size="20" fill="#1a1a1a">10%</text></svg>
</body></html>
